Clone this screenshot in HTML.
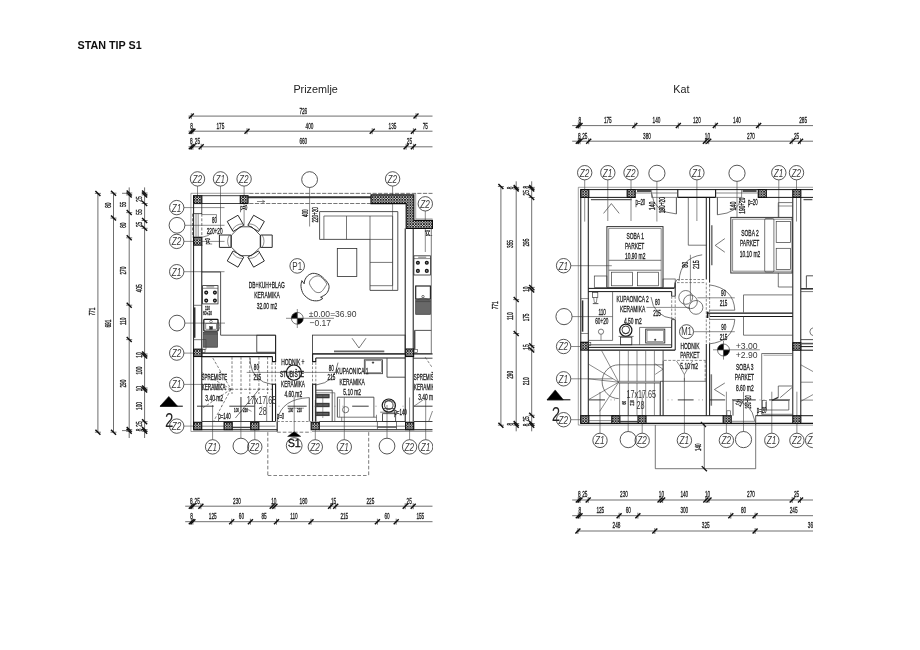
<!DOCTYPE html>
<html lang="hr">
<head>
<meta charset="utf-8">
<title>STAN TIP S1</title>
<style>
html,body{margin:0;padding:0;background:#fff;}
body{width:920px;height:650px;overflow:hidden;font-family:"Liberation Sans",sans-serif;}
svg{display:block;font-family:"Liberation Sans",sans-serif;}
</style>
</head>
<body>
<svg width="920" height="650" viewBox="0 0 920 650">
<defs>
<pattern id="hatch" width="2.7" height="2.7" patternUnits="userSpaceOnUse">
<rect width="2.7" height="2.7" fill="#d2d2d2"/>
<path d="M-0.5 -0.5L3.2 3.2M-0.5 3.2L3.2 -0.5M-0.5 2.2L0.5 3.2M2.2 -0.5L3.2 0.5M-0.5 0.5L0.5 -0.5M2.2 3.2L3.2 2.2" stroke="#161616" stroke-width="0.84" fill="none"/>
</pattern>
<filter id="soft" x="0" y="0" width="920" height="650" filterUnits="userSpaceOnUse"><feGaussianBlur stdDeviation="0.38"/></filter>
<clipPath id="clipL"><rect x="60" y="100" width="372.2" height="440"/></clipPath>
<clipPath id="clipR"><rect x="480" y="100" width="333" height="440"/></clipPath>
</defs>
<rect width="920" height="650" fill="#fff"/>
<g filter="url(#soft)">
<text x="77.6" y="48.9" font-size="10.75" font-weight="bold" fill="#111">STAN TIP S1</text>
<text x="315.6" y="92.7" font-size="10.8" text-anchor="middle" fill="#222">Prizemlje</text>
<text x="681.3" y="92.7" font-size="10.8" text-anchor="middle" fill="#222">Kat</text>
<g clip-path="url(#clipL)">
<line x1="188.5" y1="116.1" x2="432.5" y2="116.1" stroke="#4a4a4a" stroke-width="0.8"/>
<line x1="191.3" y1="113.1" x2="191.3" y2="119.1" stroke="#3a3a3a" stroke-width="0.7"/>
<line x1="188.8" y1="118.6" x2="193.8" y2="113.6" stroke="#111" stroke-width="1.45"/>
<line x1="416" y1="113.1" x2="416" y2="119.1" stroke="#3a3a3a" stroke-width="0.7"/>
<line x1="413.5" y1="118.6" x2="418.5" y2="113.6" stroke="#111" stroke-width="1.45"/>
<text transform="translate(303.3 113.53) scale(0.5 1)" font-size="9.4" text-anchor="middle" fill="#1c1c1c" stroke="#1c1c1c" stroke-width="0.32">726</text>
<line x1="188.5" y1="131.2" x2="432.5" y2="131.2" stroke="#4a4a4a" stroke-width="0.8"/>
<line x1="191.3" y1="128.2" x2="191.3" y2="134.2" stroke="#3a3a3a" stroke-width="0.7"/>
<line x1="188.8" y1="133.7" x2="193.8" y2="128.7" stroke="#111" stroke-width="1.45"/>
<line x1="192.9" y1="128.2" x2="192.9" y2="134.2" stroke="#3a3a3a" stroke-width="0.7"/>
<line x1="190.4" y1="133.7" x2="195.4" y2="128.7" stroke="#111" stroke-width="1.45"/>
<line x1="247" y1="128.2" x2="247" y2="134.2" stroke="#3a3a3a" stroke-width="0.7"/>
<line x1="244.5" y1="133.7" x2="249.5" y2="128.7" stroke="#111" stroke-width="1.45"/>
<line x1="372.2" y1="128.2" x2="372.2" y2="134.2" stroke="#3a3a3a" stroke-width="0.7"/>
<line x1="369.7" y1="133.7" x2="374.7" y2="128.7" stroke="#111" stroke-width="1.45"/>
<line x1="413.4" y1="128.2" x2="413.4" y2="134.2" stroke="#3a3a3a" stroke-width="0.7"/>
<line x1="410.9" y1="133.7" x2="415.9" y2="128.7" stroke="#111" stroke-width="1.45"/>
<text transform="translate(191.6 128.63) scale(0.5 1)" font-size="9.4" text-anchor="middle" fill="#1c1c1c" stroke="#1c1c1c" stroke-width="0.32">8</text>
<text transform="translate(220.4 128.63) scale(0.5 1)" font-size="9.4" text-anchor="middle" fill="#1c1c1c" stroke="#1c1c1c" stroke-width="0.32">175</text>
<text transform="translate(309.5 128.63) scale(0.5 1)" font-size="9.4" text-anchor="middle" fill="#1c1c1c" stroke="#1c1c1c" stroke-width="0.32">400</text>
<text transform="translate(392.5 128.63) scale(0.5 1)" font-size="9.4" text-anchor="middle" fill="#1c1c1c" stroke="#1c1c1c" stroke-width="0.32">135</text>
<text transform="translate(425.3 128.63) scale(0.5 1)" font-size="9.4" text-anchor="middle" fill="#1c1c1c" stroke="#1c1c1c" stroke-width="0.32">75</text>
<line x1="188.5" y1="146.8" x2="432.5" y2="146.8" stroke="#4a4a4a" stroke-width="0.8"/>
<line x1="191.3" y1="143.8" x2="191.3" y2="149.8" stroke="#3a3a3a" stroke-width="0.7"/>
<line x1="188.8" y1="149.3" x2="193.8" y2="144.3" stroke="#111" stroke-width="1.45"/>
<line x1="192.9" y1="143.8" x2="192.9" y2="149.8" stroke="#3a3a3a" stroke-width="0.7"/>
<line x1="190.4" y1="149.3" x2="195.4" y2="144.3" stroke="#111" stroke-width="1.45"/>
<line x1="201.2" y1="143.8" x2="201.2" y2="149.8" stroke="#3a3a3a" stroke-width="0.7"/>
<line x1="198.7" y1="149.3" x2="203.7" y2="144.3" stroke="#111" stroke-width="1.45"/>
<line x1="406.1" y1="143.8" x2="406.1" y2="149.8" stroke="#3a3a3a" stroke-width="0.7"/>
<line x1="403.6" y1="149.3" x2="408.6" y2="144.3" stroke="#111" stroke-width="1.45"/>
<line x1="413.4" y1="143.8" x2="413.4" y2="149.8" stroke="#3a3a3a" stroke-width="0.7"/>
<line x1="410.9" y1="149.3" x2="415.9" y2="144.3" stroke="#111" stroke-width="1.45"/>
<text transform="translate(191.4 144.23) scale(0.5 1)" font-size="9.4" text-anchor="middle" fill="#1c1c1c" stroke="#1c1c1c" stroke-width="0.32">8</text>
<text transform="translate(197.4 144.23) scale(0.5 1)" font-size="9.4" text-anchor="middle" fill="#1c1c1c" stroke="#1c1c1c" stroke-width="0.32">25</text>
<text transform="translate(303.3 144.23) scale(0.5 1)" font-size="9.4" text-anchor="middle" fill="#1c1c1c" stroke="#1c1c1c" stroke-width="0.32">660</text>
<text transform="translate(409.4 144.23) scale(0.5 1)" font-size="9.4" text-anchor="middle" fill="#1c1c1c" stroke="#1c1c1c" stroke-width="0.32">25</text>
<line x1="185.2" y1="506.2" x2="432.5" y2="506.2" stroke="#4a4a4a" stroke-width="0.8"/>
<line x1="191.3" y1="503.2" x2="191.3" y2="509.2" stroke="#3a3a3a" stroke-width="0.7"/>
<line x1="188.8" y1="508.7" x2="193.8" y2="503.7" stroke="#111" stroke-width="1.45"/>
<line x1="192.9" y1="503.2" x2="192.9" y2="509.2" stroke="#3a3a3a" stroke-width="0.7"/>
<line x1="190.4" y1="508.7" x2="195.4" y2="503.7" stroke="#111" stroke-width="1.45"/>
<line x1="200.9" y1="503.2" x2="200.9" y2="509.2" stroke="#3a3a3a" stroke-width="0.7"/>
<line x1="198.4" y1="508.7" x2="203.4" y2="503.7" stroke="#111" stroke-width="1.45"/>
<line x1="272.2" y1="503.2" x2="272.2" y2="509.2" stroke="#3a3a3a" stroke-width="0.7"/>
<line x1="269.7" y1="508.7" x2="274.7" y2="503.7" stroke="#111" stroke-width="1.45"/>
<line x1="274.9" y1="503.2" x2="274.9" y2="509.2" stroke="#3a3a3a" stroke-width="0.7"/>
<line x1="272.4" y1="508.7" x2="277.4" y2="503.7" stroke="#111" stroke-width="1.45"/>
<line x1="330.6" y1="503.2" x2="330.6" y2="509.2" stroke="#3a3a3a" stroke-width="0.7"/>
<line x1="328.1" y1="508.7" x2="333.1" y2="503.7" stroke="#111" stroke-width="1.45"/>
<line x1="335.7" y1="503.2" x2="335.7" y2="509.2" stroke="#3a3a3a" stroke-width="0.7"/>
<line x1="333.2" y1="508.7" x2="338.2" y2="503.7" stroke="#111" stroke-width="1.45"/>
<line x1="405.2" y1="503.2" x2="405.2" y2="509.2" stroke="#3a3a3a" stroke-width="0.7"/>
<line x1="402.7" y1="508.7" x2="407.7" y2="503.7" stroke="#111" stroke-width="1.45"/>
<line x1="413.2" y1="503.2" x2="413.2" y2="509.2" stroke="#3a3a3a" stroke-width="0.7"/>
<line x1="410.7" y1="508.7" x2="415.7" y2="503.7" stroke="#111" stroke-width="1.45"/>
<text transform="translate(191.4 503.63) scale(0.5 1)" font-size="9.4" text-anchor="middle" fill="#1c1c1c" stroke="#1c1c1c" stroke-width="0.32">8</text>
<text transform="translate(197.2 503.63) scale(0.5 1)" font-size="9.4" text-anchor="middle" fill="#1c1c1c" stroke="#1c1c1c" stroke-width="0.32">25</text>
<text transform="translate(237 503.63) scale(0.5 1)" font-size="9.4" text-anchor="middle" fill="#1c1c1c" stroke="#1c1c1c" stroke-width="0.32">230</text>
<text transform="translate(273.8 503.63) scale(0.5 1)" font-size="9.4" text-anchor="middle" fill="#1c1c1c" stroke="#1c1c1c" stroke-width="0.32">10</text>
<text transform="translate(303.5 503.63) scale(0.5 1)" font-size="9.4" text-anchor="middle" fill="#1c1c1c" stroke="#1c1c1c" stroke-width="0.32">180</text>
<text transform="translate(333.6 503.63) scale(0.5 1)" font-size="9.4" text-anchor="middle" fill="#1c1c1c" stroke="#1c1c1c" stroke-width="0.32">15</text>
<text transform="translate(370.4 503.63) scale(0.5 1)" font-size="9.4" text-anchor="middle" fill="#1c1c1c" stroke="#1c1c1c" stroke-width="0.32">225</text>
<text transform="translate(409.2 503.63) scale(0.5 1)" font-size="9.4" text-anchor="middle" fill="#1c1c1c" stroke="#1c1c1c" stroke-width="0.32">25</text>
<line x1="185.2" y1="521.7" x2="432.5" y2="521.7" stroke="#4a4a4a" stroke-width="0.8"/>
<line x1="191.3" y1="518.7" x2="191.3" y2="524.7" stroke="#3a3a3a" stroke-width="0.7"/>
<line x1="188.8" y1="524.2" x2="193.8" y2="519.2" stroke="#111" stroke-width="1.45"/>
<line x1="192.9" y1="518.7" x2="192.9" y2="524.7" stroke="#3a3a3a" stroke-width="0.7"/>
<line x1="190.4" y1="524.2" x2="195.4" y2="519.2" stroke="#111" stroke-width="1.45"/>
<line x1="231.7" y1="518.7" x2="231.7" y2="524.7" stroke="#3a3a3a" stroke-width="0.7"/>
<line x1="229.2" y1="524.2" x2="234.2" y2="519.2" stroke="#111" stroke-width="1.45"/>
<line x1="250.4" y1="518.7" x2="250.4" y2="524.7" stroke="#3a3a3a" stroke-width="0.7"/>
<line x1="247.9" y1="524.2" x2="252.9" y2="519.2" stroke="#111" stroke-width="1.45"/>
<line x1="276.5" y1="518.7" x2="276.5" y2="524.7" stroke="#3a3a3a" stroke-width="0.7"/>
<line x1="274" y1="524.2" x2="279" y2="519.2" stroke="#111" stroke-width="1.45"/>
<line x1="311" y1="518.7" x2="311" y2="524.7" stroke="#3a3a3a" stroke-width="0.7"/>
<line x1="308.5" y1="524.2" x2="313.5" y2="519.2" stroke="#111" stroke-width="1.45"/>
<line x1="377.4" y1="518.7" x2="377.4" y2="524.7" stroke="#3a3a3a" stroke-width="0.7"/>
<line x1="374.9" y1="524.2" x2="379.9" y2="519.2" stroke="#111" stroke-width="1.45"/>
<line x1="396.2" y1="518.7" x2="396.2" y2="524.7" stroke="#3a3a3a" stroke-width="0.7"/>
<line x1="393.7" y1="524.2" x2="398.7" y2="519.2" stroke="#111" stroke-width="1.45"/>
<text transform="translate(191.6 519.13) scale(0.5 1)" font-size="9.4" text-anchor="middle" fill="#1c1c1c" stroke="#1c1c1c" stroke-width="0.32">8</text>
<text transform="translate(212.7 519.13) scale(0.5 1)" font-size="9.4" text-anchor="middle" fill="#1c1c1c" stroke="#1c1c1c" stroke-width="0.32">125</text>
<text transform="translate(241.4 519.13) scale(0.5 1)" font-size="9.4" text-anchor="middle" fill="#1c1c1c" stroke="#1c1c1c" stroke-width="0.32">60</text>
<text transform="translate(264 519.13) scale(0.5 1)" font-size="9.4" text-anchor="middle" fill="#1c1c1c" stroke="#1c1c1c" stroke-width="0.32">85</text>
<text transform="translate(293.9 519.13) scale(0.5 1)" font-size="9.4" text-anchor="middle" fill="#1c1c1c" stroke="#1c1c1c" stroke-width="0.32">110</text>
<text transform="translate(344.3 519.13) scale(0.5 1)" font-size="9.4" text-anchor="middle" fill="#1c1c1c" stroke="#1c1c1c" stroke-width="0.32">215</text>
<text transform="translate(387 519.13) scale(0.5 1)" font-size="9.4" text-anchor="middle" fill="#1c1c1c" stroke="#1c1c1c" stroke-width="0.32">60</text>
<text transform="translate(420.3 519.13) scale(0.5 1)" font-size="9.4" text-anchor="middle" fill="#1c1c1c" stroke="#1c1c1c" stroke-width="0.32">155</text>
<line x1="97.9" y1="193.4" x2="97.9" y2="432.2" stroke="#4a4a4a" stroke-width="0.8"/>
<line x1="94.9" y1="193.4" x2="100.9" y2="193.4" stroke="#3a3a3a" stroke-width="0.7"/>
<line x1="95.4" y1="190.9" x2="100.4" y2="195.9" stroke="#111" stroke-width="1.45"/>
<line x1="94.9" y1="432.2" x2="100.9" y2="432.2" stroke="#3a3a3a" stroke-width="0.7"/>
<line x1="95.4" y1="429.7" x2="100.4" y2="434.7" stroke="#111" stroke-width="1.45"/>
<text transform="translate(91.6 311.65) rotate(-90) translate(0 3.38) scale(0.5 1)" font-size="9.4" text-anchor="middle" fill="#1c1c1c" stroke="#1c1c1c" stroke-width="0.32">771</text>
<line x1="113.5" y1="193.2" x2="113.5" y2="432.2" stroke="#4a4a4a" stroke-width="0.8"/>
<line x1="110.5" y1="193.2" x2="116.5" y2="193.2" stroke="#3a3a3a" stroke-width="0.7"/>
<line x1="111" y1="190.7" x2="116" y2="195.7" stroke="#111" stroke-width="1.45"/>
<line x1="110.5" y1="218.1" x2="116.5" y2="218.1" stroke="#3a3a3a" stroke-width="0.7"/>
<line x1="111" y1="215.6" x2="116" y2="220.6" stroke="#111" stroke-width="1.45"/>
<line x1="110.5" y1="432.2" x2="116.5" y2="432.2" stroke="#3a3a3a" stroke-width="0.7"/>
<line x1="111" y1="429.7" x2="116" y2="434.7" stroke="#111" stroke-width="1.45"/>
<text transform="translate(107.2 205.25) rotate(-90) translate(0 3.38) scale(0.5 1)" font-size="9.4" text-anchor="middle" fill="#1c1c1c" stroke="#1c1c1c" stroke-width="0.32">80</text>
<text transform="translate(107.2 323.65) rotate(-90) translate(0 3.38) scale(0.5 1)" font-size="9.4" text-anchor="middle" fill="#1c1c1c" stroke="#1c1c1c" stroke-width="0.32">691</text>
<line x1="129.2" y1="187.4" x2="129.2" y2="438" stroke="#4a4a4a" stroke-width="0.8"/>
<line x1="126.2" y1="193" x2="132.2" y2="193" stroke="#3a3a3a" stroke-width="0.7"/>
<line x1="126.7" y1="190.5" x2="131.7" y2="195.5" stroke="#111" stroke-width="1.45"/>
<line x1="126.2" y1="194.9" x2="132.2" y2="194.9" stroke="#3a3a3a" stroke-width="0.7"/>
<line x1="126.7" y1="192.4" x2="131.7" y2="197.4" stroke="#111" stroke-width="1.45"/>
<line x1="126.2" y1="212.6" x2="132.2" y2="212.6" stroke="#3a3a3a" stroke-width="0.7"/>
<line x1="126.7" y1="210.1" x2="131.7" y2="215.1" stroke="#111" stroke-width="1.45"/>
<line x1="126.2" y1="237.8" x2="132.2" y2="237.8" stroke="#3a3a3a" stroke-width="0.7"/>
<line x1="126.7" y1="235.3" x2="131.7" y2="240.3" stroke="#111" stroke-width="1.45"/>
<line x1="126.2" y1="305.2" x2="132.2" y2="305.2" stroke="#3a3a3a" stroke-width="0.7"/>
<line x1="126.7" y1="302.7" x2="131.7" y2="307.7" stroke="#111" stroke-width="1.45"/>
<line x1="126.2" y1="339.6" x2="132.2" y2="339.6" stroke="#3a3a3a" stroke-width="0.7"/>
<line x1="126.7" y1="337.1" x2="131.7" y2="342.1" stroke="#111" stroke-width="1.45"/>
<line x1="126.2" y1="429.6" x2="132.2" y2="429.6" stroke="#3a3a3a" stroke-width="0.7"/>
<line x1="126.7" y1="427.1" x2="131.7" y2="432.1" stroke="#111" stroke-width="1.45"/>
<line x1="126.2" y1="431.3" x2="132.2" y2="431.3" stroke="#3a3a3a" stroke-width="0.7"/>
<line x1="126.7" y1="428.8" x2="131.7" y2="433.8" stroke="#111" stroke-width="1.45"/>
<text transform="translate(122.9 204.45) rotate(-90) translate(0 3.38) scale(0.5 1)" font-size="9.4" text-anchor="middle" fill="#1c1c1c" stroke="#1c1c1c" stroke-width="0.32">55</text>
<text transform="translate(122.9 225.25) rotate(-90) translate(0 3.38) scale(0.5 1)" font-size="9.4" text-anchor="middle" fill="#1c1c1c" stroke="#1c1c1c" stroke-width="0.32">80</text>
<text transform="translate(122.9 270.65) rotate(-90) translate(0 3.38) scale(0.5 1)" font-size="9.4" text-anchor="middle" fill="#1c1c1c" stroke="#1c1c1c" stroke-width="0.32">270</text>
<text transform="translate(122.9 321.35) rotate(-90) translate(0 3.38) scale(0.5 1)" font-size="9.4" text-anchor="middle" fill="#1c1c1c" stroke="#1c1c1c" stroke-width="0.32">110</text>
<text transform="translate(122.9 383.65) rotate(-90) translate(0 3.38) scale(0.5 1)" font-size="9.4" text-anchor="middle" fill="#1c1c1c" stroke="#1c1c1c" stroke-width="0.32">290</text>
<line x1="122" y1="193.3" x2="129.2" y2="193.3" stroke="#3e3e3e" stroke-width="0.7"/>
<line x1="122" y1="430.6" x2="129.2" y2="430.6" stroke="#3e3e3e" stroke-width="0.7"/>
<line x1="144.6" y1="187.4" x2="144.6" y2="438" stroke="#4a4a4a" stroke-width="0.8"/>
<line x1="141.6" y1="193" x2="147.6" y2="193" stroke="#3a3a3a" stroke-width="0.7"/>
<line x1="142.1" y1="190.5" x2="147.1" y2="195.5" stroke="#111" stroke-width="1.45"/>
<line x1="141.6" y1="194.9" x2="147.6" y2="194.9" stroke="#3a3a3a" stroke-width="0.7"/>
<line x1="142.1" y1="192.4" x2="147.1" y2="197.4" stroke="#111" stroke-width="1.45"/>
<line x1="141.6" y1="203.5" x2="147.6" y2="203.5" stroke="#3a3a3a" stroke-width="0.7"/>
<line x1="142.1" y1="201" x2="147.1" y2="206" stroke="#111" stroke-width="1.45"/>
<line x1="141.6" y1="220.5" x2="147.6" y2="220.5" stroke="#3a3a3a" stroke-width="0.7"/>
<line x1="142.1" y1="218" x2="147.1" y2="223" stroke="#111" stroke-width="1.45"/>
<line x1="141.6" y1="228.3" x2="147.6" y2="228.3" stroke="#3a3a3a" stroke-width="0.7"/>
<line x1="142.1" y1="225.8" x2="147.1" y2="230.8" stroke="#111" stroke-width="1.45"/>
<line x1="141.6" y1="354" x2="147.6" y2="354" stroke="#3a3a3a" stroke-width="0.7"/>
<line x1="142.1" y1="351.5" x2="147.1" y2="356.5" stroke="#111" stroke-width="1.45"/>
<line x1="141.6" y1="356" x2="147.6" y2="356" stroke="#3a3a3a" stroke-width="0.7"/>
<line x1="142.1" y1="353.5" x2="147.1" y2="358.5" stroke="#111" stroke-width="1.45"/>
<line x1="141.6" y1="388" x2="147.6" y2="388" stroke="#3a3a3a" stroke-width="0.7"/>
<line x1="142.1" y1="385.5" x2="147.1" y2="390.5" stroke="#111" stroke-width="1.45"/>
<line x1="141.6" y1="390" x2="147.6" y2="390" stroke="#3a3a3a" stroke-width="0.7"/>
<line x1="142.1" y1="387.5" x2="147.1" y2="392.5" stroke="#111" stroke-width="1.45"/>
<line x1="141.6" y1="421.7" x2="147.6" y2="421.7" stroke="#3a3a3a" stroke-width="0.7"/>
<line x1="142.1" y1="419.2" x2="147.1" y2="424.2" stroke="#111" stroke-width="1.45"/>
<line x1="141.6" y1="429.6" x2="147.6" y2="429.6" stroke="#3a3a3a" stroke-width="0.7"/>
<line x1="142.1" y1="427.1" x2="147.1" y2="432.1" stroke="#111" stroke-width="1.45"/>
<line x1="141.6" y1="431.3" x2="147.6" y2="431.3" stroke="#3a3a3a" stroke-width="0.7"/>
<line x1="142.1" y1="428.8" x2="147.1" y2="433.8" stroke="#111" stroke-width="1.45"/>
<text transform="translate(138.3 199.05) rotate(-90) translate(0 3.38) scale(0.5 1)" font-size="9.4" text-anchor="middle" fill="#1c1c1c" stroke="#1c1c1c" stroke-width="0.32">25</text>
<text transform="translate(138.3 212.05) rotate(-90) translate(0 3.38) scale(0.5 1)" font-size="9.4" text-anchor="middle" fill="#1c1c1c" stroke="#1c1c1c" stroke-width="0.32">55</text>
<text transform="translate(138.3 224.45) rotate(-90) translate(0 3.38) scale(0.5 1)" font-size="9.4" text-anchor="middle" fill="#1c1c1c" stroke="#1c1c1c" stroke-width="0.32">25</text>
<text transform="translate(138.3 288.35) rotate(-90) translate(0 3.38) scale(0.5 1)" font-size="9.4" text-anchor="middle" fill="#1c1c1c" stroke="#1c1c1c" stroke-width="0.32">405</text>
<text transform="translate(138.3 355.05) rotate(-90) translate(0 3.38) scale(0.5 1)" font-size="9.4" text-anchor="middle" fill="#1c1c1c" stroke="#1c1c1c" stroke-width="0.32">10</text>
<text transform="translate(138.3 370.65) rotate(-90) translate(0 3.38) scale(0.5 1)" font-size="9.4" text-anchor="middle" fill="#1c1c1c" stroke="#1c1c1c" stroke-width="0.32">100</text>
<text transform="translate(138.3 388.65) rotate(-90) translate(0 3.38) scale(0.5 1)" font-size="9.4" text-anchor="middle" fill="#1c1c1c" stroke="#1c1c1c" stroke-width="0.32">10</text>
<text transform="translate(138.3 406.05) rotate(-90) translate(0 3.38) scale(0.5 1)" font-size="9.4" text-anchor="middle" fill="#1c1c1c" stroke="#1c1c1c" stroke-width="0.32">100</text>
<text transform="translate(138.3 424.05) rotate(-90) translate(0 3.38) scale(0.5 1)" font-size="9.4" text-anchor="middle" fill="#1c1c1c" stroke="#1c1c1c" stroke-width="0.32">25</text>
<text transform="translate(138.3 430.05) rotate(-90) translate(0 3.38) scale(0.5 1)" font-size="9.4" text-anchor="middle" fill="#1c1c1c" stroke="#1c1c1c" stroke-width="0.32">8</text>
<path d="M160 406.2 L168.8 396.4 L177.6 406.2 Z" fill="#000" stroke="#000" stroke-width="0.5"/>
<line x1="160" y1="406.2" x2="182.8" y2="406.2" stroke="#000" stroke-width="1"/>
<text transform="translate(169.3 426.76) scale(0.72 1)" font-size="21" text-anchor="middle" fill="#222">2</text>
<circle cx="197.5" cy="178.9" r="7.2" fill="none" stroke="#2c2c2c" stroke-width="0.8"/>
<text transform="translate(197.3 182.89) scale(0.76 1)" font-size="10.8" text-anchor="middle" fill="#3a3a3a" font-style="italic">Z2</text>
<circle cx="220.5" cy="178.9" r="7.2" fill="none" stroke="#2c2c2c" stroke-width="0.8"/>
<text transform="translate(220.3 182.89) scale(0.76 1)" font-size="10.8" text-anchor="middle" fill="#3a3a3a" font-style="italic">Z1</text>
<circle cx="244.1" cy="178.9" r="7.2" fill="none" stroke="#2c2c2c" stroke-width="0.8"/>
<text transform="translate(243.9 182.89) scale(0.76 1)" font-size="10.8" text-anchor="middle" fill="#3a3a3a" font-style="italic">Z2</text>
<circle cx="392.6" cy="178.9" r="7.2" fill="none" stroke="#2c2c2c" stroke-width="0.8"/>
<text transform="translate(392.4 182.89) scale(0.76 1)" font-size="10.8" text-anchor="middle" fill="#3a3a3a" font-style="italic">Z2</text>
<circle cx="309.6" cy="179.6" r="7.9" fill="none" stroke="#2c2c2c" stroke-width="0.8"/>
<circle cx="425.3" cy="203.8" r="7.2" fill="none" stroke="#2c2c2c" stroke-width="0.8"/>
<text transform="translate(425.1 207.79) scale(0.76 1)" font-size="10.8" text-anchor="middle" fill="#3a3a3a" font-style="italic">Z2</text>
<line x1="197.5" y1="186.1" x2="197.5" y2="201" stroke="#3e3e3e" stroke-width="0.6"/>
<line x1="220.5" y1="186.1" x2="220.5" y2="229.6" stroke="#3e3e3e" stroke-width="0.6"/>
<line x1="244.1" y1="186.1" x2="244.1" y2="225.5" stroke="#3e3e3e" stroke-width="0.6"/>
<line x1="309.6" y1="187.5" x2="309.6" y2="226.5" stroke="#3e3e3e" stroke-width="0.6"/>
<line x1="392.6" y1="186.1" x2="392.6" y2="290" stroke="#3e3e3e" stroke-width="0.6"/>
<line x1="425.3" y1="211" x2="425.3" y2="252" stroke="#3e3e3e" stroke-width="0.6"/>
<circle cx="176.7" cy="207.6" r="7.2" fill="none" stroke="#2c2c2c" stroke-width="0.8"/>
<text transform="translate(176.5 211.59) scale(0.76 1)" font-size="10.8" text-anchor="middle" fill="#3a3a3a" font-style="italic">Z1</text>
<circle cx="176.7" cy="241.4" r="7.2" fill="none" stroke="#2c2c2c" stroke-width="0.8"/>
<text transform="translate(176.5 245.39) scale(0.76 1)" font-size="10.8" text-anchor="middle" fill="#3a3a3a" font-style="italic">Z2</text>
<circle cx="176.7" cy="271.7" r="7.2" fill="none" stroke="#2c2c2c" stroke-width="0.8"/>
<text transform="translate(176.5 275.69) scale(0.76 1)" font-size="10.8" text-anchor="middle" fill="#3a3a3a" font-style="italic">Z1</text>
<circle cx="176.7" cy="353.1" r="7.2" fill="none" stroke="#2c2c2c" stroke-width="0.8"/>
<text transform="translate(176.5 357.09) scale(0.76 1)" font-size="10.8" text-anchor="middle" fill="#3a3a3a" font-style="italic">Z2</text>
<circle cx="176.7" cy="384.4" r="7.2" fill="none" stroke="#2c2c2c" stroke-width="0.8"/>
<text transform="translate(176.5 388.39) scale(0.76 1)" font-size="10.8" text-anchor="middle" fill="#3a3a3a" font-style="italic">Z1</text>
<circle cx="176.7" cy="426.1" r="7.2" fill="none" stroke="#2c2c2c" stroke-width="0.8"/>
<text transform="translate(176.5 430.09) scale(0.76 1)" font-size="10.8" text-anchor="middle" fill="#3a3a3a" font-style="italic">Z2</text>
<circle cx="177" cy="225.3" r="7.9" fill="none" stroke="#2c2c2c" stroke-width="0.8"/>
<circle cx="177" cy="323.1" r="7.9" fill="none" stroke="#2c2c2c" stroke-width="0.8"/>
<line x1="183.9" y1="207.6" x2="224.5" y2="207.6" stroke="#3e3e3e" stroke-width="0.6"/>
<line x1="184.9" y1="225.3" x2="224.5" y2="225.3" stroke="#3e3e3e" stroke-width="0.6"/>
<line x1="183.9" y1="241.4" x2="224.5" y2="241.4" stroke="#3e3e3e" stroke-width="0.6"/>
<line x1="183.9" y1="271.7" x2="224.5" y2="271.7" stroke="#3e3e3e" stroke-width="0.6"/>
<line x1="184.9" y1="323.1" x2="225" y2="323.1" stroke="#3e3e3e" stroke-width="0.6"/>
<line x1="183.9" y1="353.1" x2="201" y2="353.1" stroke="#3e3e3e" stroke-width="0.6"/>
<line x1="183.9" y1="384.4" x2="224.5" y2="384.4" stroke="#3e3e3e" stroke-width="0.6"/>
<line x1="183.9" y1="426.1" x2="201" y2="426.1" stroke="#3e3e3e" stroke-width="0.6"/>
<circle cx="212.6" cy="446.9" r="7.2" fill="none" stroke="#2c2c2c" stroke-width="0.8"/>
<text transform="translate(212.4 450.89) scale(0.76 1)" font-size="10.8" text-anchor="middle" fill="#3a3a3a" font-style="italic">Z1</text>
<circle cx="254.8" cy="446.9" r="7.2" fill="none" stroke="#2c2c2c" stroke-width="0.8"/>
<text transform="translate(254.6 450.89) scale(0.76 1)" font-size="10.8" text-anchor="middle" fill="#3a3a3a" font-style="italic">Z2</text>
<circle cx="315.3" cy="446.9" r="7.2" fill="none" stroke="#2c2c2c" stroke-width="0.8"/>
<text transform="translate(315.1 450.89) scale(0.76 1)" font-size="10.8" text-anchor="middle" fill="#3a3a3a" font-style="italic">Z2</text>
<circle cx="344.3" cy="446.9" r="7.2" fill="none" stroke="#2c2c2c" stroke-width="0.8"/>
<text transform="translate(344.1 450.89) scale(0.76 1)" font-size="10.8" text-anchor="middle" fill="#3a3a3a" font-style="italic">Z1</text>
<circle cx="409.6" cy="446.9" r="7.2" fill="none" stroke="#2c2c2c" stroke-width="0.8"/>
<text transform="translate(409.4 450.89) scale(0.76 1)" font-size="10.8" text-anchor="middle" fill="#3a3a3a" font-style="italic">Z2</text>
<circle cx="425.7" cy="446.9" r="7.2" fill="none" stroke="#2c2c2c" stroke-width="0.8"/>
<text transform="translate(425.5 450.89) scale(0.76 1)" font-size="10.8" text-anchor="middle" fill="#3a3a3a" font-style="italic">Z1</text>
<circle cx="240.9" cy="446.1" r="7.9" fill="none" stroke="#2c2c2c" stroke-width="0.8"/>
<circle cx="387" cy="446.1" r="7.9" fill="none" stroke="#2c2c2c" stroke-width="0.8"/>
<circle cx="294.2" cy="445.6" r="7.9" fill="none" stroke="#2c2c2c" stroke-width="0.8"/>
<text x="294.2" y="447.3" font-size="10.7" text-anchor="middle" fill="#111" stroke="#111" stroke-width="0.3">S1</text>
<line x1="212.6" y1="439.7" x2="212.6" y2="405" stroke="#3e3e3e" stroke-width="0.6"/>
<line x1="240.9" y1="438.2" x2="240.9" y2="397" stroke="#3e3e3e" stroke-width="0.6"/>
<line x1="254.8" y1="439.7" x2="254.8" y2="395.5" stroke="#3e3e3e" stroke-width="0.6"/>
<line x1="315.3" y1="439.7" x2="315.3" y2="400" stroke="#3e3e3e" stroke-width="0.6"/>
<line x1="344.3" y1="439.7" x2="344.3" y2="397.5" stroke="#3e3e3e" stroke-width="0.6"/>
<line x1="387" y1="438.2" x2="387" y2="405" stroke="#3e3e3e" stroke-width="0.6"/>
<line x1="409.6" y1="439.7" x2="409.6" y2="397.5" stroke="#3e3e3e" stroke-width="0.6"/>
<line x1="425.7" y1="439.7" x2="425.7" y2="397.5" stroke="#3e3e3e" stroke-width="0.6"/>
<path d="M287.6 436.4 L294.2 431.6 L300.8 436.4 Z" fill="#000" stroke="#000" stroke-width="0.4"/>
<line x1="294.2" y1="431.6" x2="294.2" y2="395.5" stroke="#3e3e3e" stroke-width="0.6"/>
<path d="M249.3 193.3 L190.9 193.3 L190.9 431.5 L277.2 431.5" fill="none" stroke="#555" stroke-width="0.55"/>
<line x1="312" y1="431.5" x2="432.5" y2="431.5" stroke="#555" stroke-width="0.55"/>
<line x1="249.3" y1="193.4" x2="432.5" y2="193.4" stroke="#2a2a2a" stroke-width="0.65" stroke-dasharray="4.2 1.4"/>
<line x1="249.3" y1="203.5" x2="371" y2="203.5" stroke="#2a2a2a" stroke-width="0.65" stroke-dasharray="4.2 1.4"/>
<line x1="201.7" y1="195.7" x2="240.3" y2="195.7" stroke="#2c2c2c" stroke-width="0.9"/>
<line x1="201.7" y1="203.5" x2="240.3" y2="203.5" stroke="#2c2c2c" stroke-width="0.9"/>
<line x1="248" y1="197.2" x2="371" y2="197.2" stroke="#333" stroke-width="2.1"/>
<path d="M257 201.5 L264.5 201.5" fill="none" stroke="#3e3e3e" stroke-width="0.6"/>
<path d="M262.3 200.2 L264.8 201.5 L262.3 202.8" fill="none" stroke="#3e3e3e" stroke-width="0.6"/>
<path d="M371 194.9 L413.8 194.9 L413.8 220.3 L432.5 220.3 L432.5 228.5 L406.2 228.5 L406.2 203.6 L371 203.6 Z" fill="url(#hatch)" stroke="#111" stroke-width="1.15"/>
<path d="M415.7 193.3 L415.7 218.9 L432.5 218.9" fill="none" stroke="#555" stroke-width="0.55"/>
<line x1="193.6" y1="195.7" x2="193.6" y2="429.7" stroke="#161616" stroke-width="1"/>
<line x1="201.8" y1="245" x2="201.8" y2="421.5" stroke="#161616" stroke-width="1"/>
<rect x="193.6" y="195.7" width="8.2" height="7.8" fill="url(#hatch)" stroke="#111" stroke-width="1.15"/>
<rect x="240.3" y="195.7" width="7.7" height="7.8" fill="url(#hatch)" stroke="#111" stroke-width="1.15"/>
<rect x="193.6" y="237.3" width="8.2" height="7.8" fill="url(#hatch)" stroke="#111" stroke-width="1.15"/>
<rect x="193.6" y="349.2" width="8.2" height="7.3" fill="url(#hatch)" stroke="#111" stroke-width="1.15"/>
<rect x="193.6" y="203.5" width="8.2" height="10.2" fill="none" stroke="#2c2c2c" stroke-width="0.8"/>
<line x1="192.6" y1="213.7" x2="192.6" y2="237.3" stroke="#3e3e3e" stroke-width="0.7" stroke-dasharray="3 1.6"/>
<line x1="201.8" y1="213.7" x2="201.8" y2="237.3" stroke="#3e3e3e" stroke-width="0.7" stroke-dasharray="3 1.6"/>
<line x1="196" y1="213.7" x2="196" y2="237.3" stroke="#3e3e3e" stroke-width="0.6"/>
<line x1="198.2" y1="213.7" x2="198.2" y2="237.3" stroke="#3e3e3e" stroke-width="0.6"/>
<path d="M201.8 214.6 L216.5 214.6 L216.5 217" fill="none" stroke="#3e3e3e" stroke-width="0.6"/>
<text transform="translate(214.4 223.45) scale(0.5 1)" font-size="8.89" text-anchor="middle" fill="#1c1c1c" stroke="#1c1c1c" stroke-width="0.32">80</text>
<text transform="translate(214.6 233.83) scale(0.5 1)" font-size="9.4" text-anchor="middle" fill="#1c1c1c" stroke="#1c1c1c" stroke-width="0.32">220+20</text>
<path d="M201.8 237.3 Q209 236.5 212.5 232" fill="none" stroke="#3e3e3e" stroke-width="0.6"/>
<text transform="translate(207.4 241.45) rotate(-90) translate(0 2.93) scale(0.46 1)" font-size="8.13" text-anchor="middle" fill="#1c1c1c" stroke="#1c1c1c" stroke-width="0.32">p=0</text>
<text transform="translate(243.8 210.38) scale(0.5 1)" font-size="8.13" text-anchor="middle" fill="#1c1c1c" stroke="#1c1c1c" stroke-width="0.32">p=0</text>
<text transform="translate(305.2 213.25) rotate(-90) translate(0 3.29) scale(0.5 1)" font-size="9.14" text-anchor="middle" fill="#1c1c1c" stroke="#1c1c1c" stroke-width="0.32">400</text>
<text transform="translate(314.4 214.85) rotate(-90) translate(0 3.29) scale(0.5 1)" font-size="9.14" text-anchor="middle" fill="#1c1c1c" stroke="#1c1c1c" stroke-width="0.32">220+20</text>
<line x1="194.7" y1="307.4" x2="194.7" y2="337.8" stroke="#333" stroke-width="1.5"/>
<line x1="193.6" y1="305.3" x2="201.8" y2="305.3" stroke="#3e3e3e" stroke-width="0.7"/>
<line x1="193.6" y1="339.7" x2="201.8" y2="339.7" stroke="#3e3e3e" stroke-width="0.7"/>
<line x1="193.6" y1="429.7" x2="277.2" y2="429.7" stroke="#161616" stroke-width="1.1"/>
<line x1="201.8" y1="421.5" x2="275.4" y2="421.5" stroke="#2c2c2c" stroke-width="0.9"/>
<line x1="201.8" y1="426.2" x2="224.1" y2="426.2" stroke="#3e3e3e" stroke-width="0.6"/>
<line x1="232.3" y1="427.4" x2="250.7" y2="427.4" stroke="#444" stroke-width="1.4"/>
<line x1="258.9" y1="426.2" x2="275.4" y2="426.2" stroke="#3e3e3e" stroke-width="0.6"/>
<line x1="277.2" y1="421.5" x2="277.2" y2="431.5" stroke="#2c2c2c" stroke-width="0.8"/>
<rect x="193.6" y="422.3" width="8.1" height="7.4" fill="url(#hatch)" stroke="#111" stroke-width="1.15"/>
<rect x="224.1" y="422.3" width="8.1" height="7.4" fill="url(#hatch)" stroke="#111" stroke-width="1.15"/>
<rect x="250.7" y="422.3" width="8.1" height="7.4" fill="url(#hatch)" stroke="#111" stroke-width="1.15"/>
<rect x="311.2" y="422.3" width="8.1" height="7.4" fill="url(#hatch)" stroke="#111" stroke-width="1.15"/>
<rect x="405.6" y="422.3" width="8.1" height="7.4" fill="url(#hatch)" stroke="#111" stroke-width="1.15"/>
<line x1="319.3" y1="429.7" x2="432.5" y2="429.7" stroke="#161616" stroke-width="1.1"/>
<line x1="319.3" y1="421.5" x2="405.6" y2="421.5" stroke="#2c2c2c" stroke-width="0.9"/>
<line x1="413.7" y1="421.5" x2="432.5" y2="421.5" stroke="#2c2c2c" stroke-width="0.9"/>
<line x1="319.3" y1="426.2" x2="377.4" y2="426.2" stroke="#3e3e3e" stroke-width="0.6"/>
<line x1="377.4" y1="427" x2="396.5" y2="427" stroke="#444" stroke-width="1.5"/>
<line x1="377.4" y1="421.5" x2="377.4" y2="429.7" stroke="#3e3e3e" stroke-width="0.7"/>
<line x1="396.5" y1="421.5" x2="396.5" y2="429.7" stroke="#3e3e3e" stroke-width="0.7"/>
<line x1="396.5" y1="426.2" x2="405.6" y2="426.2" stroke="#3e3e3e" stroke-width="0.6"/>
<line x1="201.8" y1="353.1" x2="275.6" y2="353.1" stroke="#161616" stroke-width="1.3"/>
<line x1="201.8" y1="356.6" x2="272.4" y2="356.6" stroke="#161616" stroke-width="1.2"/>
<path d="M272.4 356.6 L272.4 361.6 L275.6 361.6 L275.6 335.2" fill="none" stroke="#161616" stroke-width="1.1"/>
<path d="M272.4 421.5 L272.4 384.2 L275.6 384.2 L275.6 421.5" fill="none" stroke="#161616" stroke-width="1.1"/>
<line x1="272" y1="362.4" x2="272" y2="384.7" stroke="#3e3e3e" stroke-width="0.6" stroke-dasharray="2.6 1.5"/>
<line x1="275.4" y1="362.4" x2="275.4" y2="384.7" stroke="#3e3e3e" stroke-width="0.6" stroke-dasharray="2.6 1.5"/>
<line x1="312.5" y1="353.8" x2="432.5" y2="353.8" stroke="#161616" stroke-width="1.3"/>
<line x1="315.8" y1="358" x2="405.2" y2="358" stroke="#161616" stroke-width="1.2"/>
<line x1="413.4" y1="358.2" x2="432.5" y2="358.2" stroke="#2c2c2c" stroke-width="0.9"/>
<path d="M312.6 353.8 L312.6 361.6 L315.8 361.6 L315.8 358" fill="none" stroke="#161616" stroke-width="1.1"/>
<path d="M312.6 421.5 L312.6 384.2 L315.8 384.2 L315.8 421.5" fill="none" stroke="#161616" stroke-width="1.1"/>
<line x1="312.5" y1="362.4" x2="312.5" y2="384.7" stroke="#3e3e3e" stroke-width="0.6" stroke-dasharray="2.6 1.5"/>
<line x1="315.8" y1="362.4" x2="315.8" y2="384.7" stroke="#3e3e3e" stroke-width="0.6" stroke-dasharray="2.6 1.5"/>
<line x1="405.2" y1="228.5" x2="405.2" y2="421.5" stroke="#161616" stroke-width="1"/>
<line x1="413.2" y1="228.5" x2="413.2" y2="421.5" stroke="#161616" stroke-width="1"/>
<rect x="405.6" y="349" width="8" height="7.5" fill="url(#hatch)" stroke="#111" stroke-width="1.15"/>
<path d="M260.21 247.17 L251.77 255.61 L239.83 255.61 L231.39 247.17 L231.39 235.23 L239.83 226.79 L251.77 226.79 L260.21 235.23 Z" fill="none" stroke="#2c2c2c" stroke-width="0.8"/>
<path d="M260.6 235 L272.2 235 L272.2 247.4 L260.6 247.4 Z" fill="none" stroke="#2a2a2a" stroke-width="1"/>
<path d="M262.2 235 L263.6 238.2 L264 241.2 L263.6 244.2 L262.2 247.4" fill="none" stroke="#3e3e3e" stroke-width="0.6"/>
<path d="M258.57 250.92 L264.37 260.96 L253.63 267.16 L247.83 257.12 Z" fill="none" stroke="#2a2a2a" stroke-width="1"/>
<path d="M259.37 252.3 L257.3 255.12 L254.9 256.96 L252.1 258.12 L248.63 258.5" fill="none" stroke="#3e3e3e" stroke-width="0.6"/>
<path d="M243.77 257.12 L237.97 267.16 L227.23 260.96 L233.03 250.92 Z" fill="none" stroke="#2a2a2a" stroke-width="1"/>
<path d="M242.97 258.5 L239.5 258.12 L236.7 256.96 L234.3 255.12 L232.23 252.3" fill="none" stroke="#3e3e3e" stroke-width="0.6"/>
<path d="M231 247.4 L219.4 247.4 L219.4 235 L231 235 Z" fill="none" stroke="#2a2a2a" stroke-width="1"/>
<path d="M229.4 247.4 L228 244.2 L227.6 241.2 L228 238.2 L229.4 235" fill="none" stroke="#3e3e3e" stroke-width="0.6"/>
<path d="M233.03 231.48 L227.23 221.44 L237.97 215.24 L243.77 225.28 Z" fill="none" stroke="#2a2a2a" stroke-width="1"/>
<path d="M232.23 230.1 L234.3 227.28 L236.7 225.44 L239.5 224.28 L242.97 223.9" fill="none" stroke="#3e3e3e" stroke-width="0.6"/>
<path d="M247.83 225.28 L253.63 215.24 L264.37 221.44 L258.57 231.48 Z" fill="none" stroke="#2a2a2a" stroke-width="1"/>
<path d="M248.63 223.9 L252.1 224.28 L254.9 225.44 L257.3 227.28 L259.37 230.1" fill="none" stroke="#3e3e3e" stroke-width="0.6"/>
<path d="M319.6 211.6 L397.8 211.6 L397.8 290.4 L370 290.4 L370 239.4 L319.6 239.4 Z" fill="none" stroke="#2c2c2c" stroke-width="0.8"/>
<path d="M323.9 239.4 L323.9 216 L392.6 216 L392.6 285.7 L370 285.7" fill="none" stroke="#3e3e3e" stroke-width="0.7"/>
<line x1="346.5" y1="216" x2="346.5" y2="239.4" stroke="#3e3e3e" stroke-width="0.7"/>
<line x1="370" y1="216" x2="370" y2="239.4" stroke="#3e3e3e" stroke-width="0.7"/>
<line x1="370" y1="239.4" x2="392.6" y2="239.4" stroke="#3e3e3e" stroke-width="0.7"/>
<line x1="370" y1="262.4" x2="392.6" y2="262.4" stroke="#3e3e3e" stroke-width="0.7"/>
<rect x="337.3" y="248.5" width="19.5" height="27.9" fill="none" stroke="#2c2c2c" stroke-width="0.8"/>
<circle cx="297.2" cy="265.9" r="7.3" fill="none" stroke="#2c2c2c" stroke-width="0.8"/>
<text transform="translate(297.2 269.82) scale(0.76 1)" font-size="10.6" text-anchor="middle" fill="#3a3a3a">P1</text>
<path d="M304.2 283.8 C304.32 283.15 304.35 281.22 304.9 279.9 C305.45 278.58 306.48 276.92 307.5 275.9 C308.52 274.88 309.82 274.22 311 273.8 C312.18 273.38 313 273.1 314.6 273.4 C316.2 273.7 318.43 274.07 320.6 275.6 C322.77 277.13 326.2 280.55 327.6 282.6 C329 284.65 329.2 286.05 329 287.9 C328.8 289.75 327.8 292.15 326.4 293.7 C325 295.25 321.57 296.62 320.6 297.2 L322.9 298.4 C322.12 298.78 320.25 300.45 318.2 300.7 C316.15 300.95 313.03 300.97 310.6 299.9 C308.17 298.83 305.2 296.5 303.6 294.3 C302 292.1 301.3 288.98 301 286.7 C300.7 284.42 301.67 281.62 301.8 280.6 Z" fill="none" stroke="#333" stroke-width="1"/>
<path d="M309.5 283.8 C309.02 281.85 310.13 280.37 311.2 279.1 C312.27 277.83 314.33 276.58 315.9 276.2 C317.47 275.82 318.85 275.63 320.6 276.8 C322.35 277.97 325.63 281.55 326.4 283.2 C327.17 284.85 325.98 285.33 325.2 286.7 C324.42 288.07 322.87 290.42 321.7 291.4 C320.53 292.38 319.47 292.7 318.2 292.6 C316.93 292.5 315.55 292.27 314.1 290.8 C312.65 289.33 309.98 285.75 309.5 283.8 Z" fill="none" stroke="#3e3e3e" stroke-width="0.7"/>
<text transform="translate(266.8 288.02) scale(0.51 1)" font-size="9.65" text-anchor="middle" fill="#1c1c1c" stroke="#1c1c1c" stroke-width="0.32">DB+KUH+BLAG</text>
<text transform="translate(267 298.42) scale(0.51 1)" font-size="9.65" text-anchor="middle" fill="#1c1c1c" stroke="#1c1c1c" stroke-width="0.32">KERAMIKA</text>
<text transform="translate(267 308.82) scale(0.51 1)" font-size="9.65" text-anchor="middle" fill="#1c1c1c" stroke="#1c1c1c" stroke-width="0.32">32.00 m2</text>
<circle cx="297.3" cy="318.3" r="5.9" fill="none" stroke="#3e3e3e" stroke-width="0.7"/>
<path d="M297.3 318.3 L297.3 312.4 A5.9 5.9 0 0 0 291.4 318.3 Z" fill="#000" stroke="#3e3e3e" stroke-width="0.3"/>
<path d="M297.3 318.3 L297.3 324.2 A5.9 5.9 0 0 0 303.2 318.3 Z" fill="#000" stroke="#3e3e3e" stroke-width="0.3"/>
<line x1="286" y1="318.3" x2="334" y2="318.3" stroke="#3e3e3e" stroke-width="0.6"/>
<line x1="297.3" y1="309" x2="297.3" y2="328" stroke="#3e3e3e" stroke-width="0.6"/>
<text transform="translate(308.8 317.41) scale(0.93 1)" font-size="9.2" text-anchor="start" fill="#3a3a3a">±0.00=36.90</text>
<text transform="translate(309.4 325.91) scale(0.93 1)" font-size="9.2" text-anchor="start" fill="#3a3a3a">−0.17</text>
<rect x="312.5" y="335.1" width="92.7" height="18.8" fill="none" stroke="#2c2c2c" stroke-width="0.8"/>
<path d="M352 338.2 L359 348 L366 338.2" fill="none" stroke="#3e3e3e" stroke-width="0.7"/>
<line x1="334" y1="351.4" x2="384.3" y2="351.4" stroke="#666" stroke-width="1.9"/>
<path d="M201.8 272 L220.6 272 L220.6 335.2 L275.6 335.2" fill="none" stroke="#2c2c2c" stroke-width="0.8"/>
<rect x="256.8" y="335.2" width="18.6" height="17" fill="none" stroke="#2c2c2c" stroke-width="0.8"/>
<rect x="202.6" y="285.6" width="15.4" height="18.3" fill="none" stroke="#2c2c2c" stroke-width="0.8"/>
<line x1="202.6" y1="288.3" x2="218" y2="288.3" stroke="#3e3e3e" stroke-width="0.6"/>
<line x1="206.4" y1="286.9" x2="214.2" y2="286.9" stroke="#555" stroke-width="0.8"/>
<circle cx="206.2" cy="292.6" r="1.3" fill="none" stroke="#161616" stroke-width="1.5"/>
<circle cx="214.9" cy="292.6" r="1.3" fill="none" stroke="#161616" stroke-width="1.5"/>
<circle cx="206.2" cy="300.6" r="1.3" fill="none" stroke="#161616" stroke-width="1.5"/>
<circle cx="214.9" cy="300.6" r="1.3" fill="none" stroke="#161616" stroke-width="1.5"/>
<text transform="translate(207.5 310.35) scale(0.55 1)" font-size="5.84" text-anchor="middle" fill="#1c1c1c" stroke="#1c1c1c" stroke-width="0.32">110</text>
<text transform="translate(207.5 314.75) scale(0.55 1)" font-size="5.84" text-anchor="middle" fill="#1c1c1c" stroke="#1c1c1c" stroke-width="0.32">60+20</text>
<rect x="203.8" y="319.4" width="14.2" height="11.6" fill="none" stroke="#161616" stroke-width="1.25" rx="0.8"/>
<rect x="205.8" y="323.5" width="10.6" height="5.7" fill="none" stroke="#3e3e3e" stroke-width="0.6"/>
<circle cx="211" cy="321.6" r="1.3" fill="none" stroke="#3e3e3e" stroke-width="0.6"/>
<rect x="209.6" y="326.6" width="3" height="2.8" fill="#333" stroke="#3e3e3e" stroke-width="0.5"/>
<path d="M218 322 Q221.6 326.5 218 331" fill="none" stroke="#3e3e3e" stroke-width="0.6"/>
<rect x="203.6" y="332.4" width="13.8" height="14.8" fill="#686868" stroke="#333" stroke-width="0.7"/>
<line x1="203.8" y1="334" x2="217.8" y2="334" stroke="#333" stroke-width="0.5"/>
<rect x="201.8" y="339.7" width="4.2" height="9.5" fill="none" stroke="#3e3e3e" stroke-width="0.6"/>
<rect x="202.2" y="349.6" width="2.8" height="3" fill="none" stroke="#3e3e3e" stroke-width="0.6"/>
<rect x="413.9" y="255.8" width="16.6" height="19.2" fill="none" stroke="#2c2c2c" stroke-width="0.8"/>
<line x1="413.9" y1="258.6" x2="430.5" y2="258.6" stroke="#3e3e3e" stroke-width="0.6"/>
<line x1="418.2" y1="257.2" x2="426.2" y2="257.2" stroke="#555" stroke-width="0.8"/>
<circle cx="417.9" cy="262.8" r="1.3" fill="none" stroke="#161616" stroke-width="1.5"/>
<circle cx="426.8" cy="262.8" r="1.3" fill="none" stroke="#161616" stroke-width="1.5"/>
<circle cx="417.9" cy="270.9" r="1.3" fill="none" stroke="#161616" stroke-width="1.5"/>
<circle cx="426.8" cy="270.9" r="1.3" fill="none" stroke="#161616" stroke-width="1.5"/>
<rect x="415.7" y="286" width="14.7" height="13" fill="none" stroke="#161616" stroke-width="1.1"/>
<circle cx="423" cy="296.6" r="1.2" fill="none" stroke="#3e3e3e" stroke-width="0.7"/>
<rect x="415.7" y="299.8" width="14.7" height="14.5" fill="#686868" stroke="#333" stroke-width="0.7"/>
<path d="M417.5 299.8 Q423 296.6 428.8 299.8" fill="none" stroke="#3e3e3e" stroke-width="0.6"/>
<line x1="415.7" y1="301.6" x2="430.4" y2="301.6" stroke="#333" stroke-width="0.5"/>
<path d="M431.3 330.4 L414.4 330.4 L414.4 349.6" fill="none" stroke="#2c2c2c" stroke-width="0.8"/>
<line x1="414.8" y1="331" x2="414.8" y2="349" stroke="#444" stroke-width="1.2"/>
<rect x="414" y="349.4" width="3.4" height="3.2" fill="none" stroke="#3e3e3e" stroke-width="0.6"/>
<line x1="431.3" y1="228.5" x2="431.3" y2="353.9" stroke="#3e3e3e" stroke-width="0.7"/>
<text transform="translate(426.6 233.15) rotate(-90) translate(0 2.93) scale(0.46 1)" font-size="8.13" text-anchor="middle" fill="#1c1c1c" stroke="#1c1c1c" stroke-width="0.32">p=0</text>
<line x1="197" y1="406.2" x2="213.7" y2="406.2" stroke="#222" stroke-width="0.9"/>
<line x1="229.3" y1="406.2" x2="254.6" y2="406.2" stroke="#222" stroke-width="0.9"/>
<line x1="287.6" y1="406.2" x2="306.7" y2="406.2" stroke="#222" stroke-width="0.9"/>
<line x1="352.2" y1="406.2" x2="368.7" y2="406.2" stroke="#222" stroke-width="0.9"/>
<line x1="414" y1="406.2" x2="432.5" y2="406.2" stroke="#222" stroke-width="0.9"/>
<line x1="221" y1="406.2" x2="222" y2="406.2" stroke="#666" stroke-width="0.7"/>
<line x1="261.5" y1="406.2" x2="262.5" y2="406.2" stroke="#666" stroke-width="0.7"/>
<line x1="269.5" y1="406.2" x2="270.5" y2="406.2" stroke="#666" stroke-width="0.7"/>
<line x1="278.5" y1="406.2" x2="279.5" y2="406.2" stroke="#666" stroke-width="0.7"/>
<line x1="314.5" y1="406.2" x2="315.5" y2="406.2" stroke="#666" stroke-width="0.7"/>
<line x1="334.5" y1="406.2" x2="335.5" y2="406.2" stroke="#666" stroke-width="0.7"/>
<line x1="342.5" y1="406.2" x2="343.5" y2="406.2" stroke="#666" stroke-width="0.7"/>
<line x1="375.5" y1="406.2" x2="376.5" y2="406.2" stroke="#666" stroke-width="0.7"/>
<line x1="394.5" y1="406.2" x2="395.5" y2="406.2" stroke="#666" stroke-width="0.7"/>
<line x1="402.5" y1="406.2" x2="403.5" y2="406.2" stroke="#666" stroke-width="0.7"/>
<line x1="232" y1="356.8" x2="232" y2="394" stroke="#333" stroke-width="0.6" stroke-dasharray="2.8 1.6"/>
<line x1="241" y1="356.8" x2="241" y2="394" stroke="#333" stroke-width="0.6" stroke-dasharray="2.8 1.6"/>
<line x1="249.8" y1="356.8" x2="249.8" y2="394" stroke="#333" stroke-width="0.6" stroke-dasharray="2.8 1.6"/>
<line x1="258.9" y1="356.8" x2="258.9" y2="394" stroke="#333" stroke-width="0.6" stroke-dasharray="2.8 1.6"/>
<line x1="267.6" y1="356.8" x2="267.6" y2="394" stroke="#333" stroke-width="0.6" stroke-dasharray="2.8 1.6"/>
<line x1="231" y1="389.3" x2="272" y2="389.3" stroke="#333" stroke-width="0.6" stroke-dasharray="2.8 1.6"/>
<line x1="212.8" y1="358" x2="231" y2="389.3" stroke="#333" stroke-width="0.6" stroke-dasharray="2.8 1.6"/>
<line x1="201.8" y1="389.3" x2="231" y2="389.3" stroke="#333" stroke-width="0.6" stroke-dasharray="2.8 1.6"/>
<line x1="231" y1="389.3" x2="213.5" y2="421.5" stroke="#333" stroke-width="0.6" stroke-dasharray="2.8 1.6"/>
<line x1="231" y1="389.3" x2="201.8" y2="408.5" stroke="#333" stroke-width="0.6" stroke-dasharray="2.8 1.6"/>
<line x1="201.8" y1="372.5" x2="231" y2="389.3" stroke="#333" stroke-width="0.6" stroke-dasharray="2.8 1.6"/>
<line x1="259.8" y1="388.5" x2="235.4" y2="418" stroke="#3e3e3e" stroke-width="0.7"/>
<line x1="241" y1="397" x2="241" y2="421.5" stroke="#3e3e3e" stroke-width="0.6"/>
<line x1="254.6" y1="395.4" x2="254.6" y2="421.5" stroke="#3e3e3e" stroke-width="0.6"/>
<line x1="266.7" y1="395.4" x2="266.7" y2="421.5" stroke="#3e3e3e" stroke-width="0.6"/>
<text transform="translate(261.5 404.2) scale(0.72 1)" font-size="10" text-anchor="middle" fill="#333">17x17.65</text>
<text transform="translate(262.7 414.8) scale(0.72 1)" font-size="10" text-anchor="middle" fill="#333">28</text>
<text transform="translate(236.5 411.77) scale(0.55 1)" font-size="5.33" text-anchor="middle" fill="#1c1c1c" stroke="#1c1c1c" stroke-width="0.32">100</text>
<text transform="translate(245.5 411.77) scale(0.55 1)" font-size="5.33" text-anchor="middle" fill="#1c1c1c" stroke="#1c1c1c" stroke-width="0.32">210</text>
<path d="M239.5 413 Q246 407 251.5 411.4" fill="none" stroke="#3e3e3e" stroke-width="0.6"/>
<text transform="translate(214.4 380.02) scale(0.46 1)" font-size="9.65" text-anchor="middle" fill="#1c1c1c" stroke="#1c1c1c" stroke-width="0.32">SPREMIŠTE</text>
<text transform="translate(213.6 390.32) scale(0.48 1)" font-size="9.65" text-anchor="middle" fill="#1c1c1c" stroke="#1c1c1c" stroke-width="0.32">KERAMIKA</text>
<text transform="translate(214.2 400.92) scale(0.51 1)" font-size="9.65" text-anchor="middle" fill="#1c1c1c" stroke="#1c1c1c" stroke-width="0.32">3.40 m2</text>
<text transform="translate(224.4 419.25) scale(0.5 1)" font-size="8.89" text-anchor="middle" fill="#1c1c1c" stroke="#1c1c1c" stroke-width="0.32">p=140</text>
<path d="M250.2 362.4 Q252.6 381.5 272 384.4" fill="none" stroke="#3e3e3e" stroke-width="0.7"/>
<line x1="250.2" y1="358" x2="250.2" y2="363" stroke="#3e3e3e" stroke-width="0.7"/>
<text transform="translate(256.4 369.74) scale(0.5 1)" font-size="9.14" text-anchor="middle" fill="#1c1c1c" stroke="#1c1c1c" stroke-width="0.32">80</text>
<text transform="translate(257.2 380.24) scale(0.5 1)" font-size="9.14" text-anchor="middle" fill="#1c1c1c" stroke="#1c1c1c" stroke-width="0.32">215</text>
<line x1="246.7" y1="372.4" x2="338" y2="372.4" stroke="#3e3e3e" stroke-width="0.6"/>
<circle cx="293.9" cy="372.6" r="7.6" fill="none" stroke="#161616" stroke-width="1.15"/>
<text transform="translate(292.8 364.72) scale(0.51 1)" font-size="9.65" text-anchor="middle" fill="#1c1c1c" stroke="#1c1c1c" stroke-width="0.32">HODNIK +</text>
<text transform="translate(292 376.92) scale(0.51 1)" font-size="9.65" text-anchor="middle" fill="#1c1c1c" stroke="#1c1c1c" stroke-width="0.32">STUBIŠTE</text>
<text transform="translate(293 386.92) scale(0.48 1)" font-size="9.65" text-anchor="middle" fill="#1c1c1c" stroke="#1c1c1c" stroke-width="0.32">KERAMIKA</text>
<text transform="translate(293.3 397.42) scale(0.51 1)" font-size="9.65" text-anchor="middle" fill="#1c1c1c" stroke="#1c1c1c" stroke-width="0.32">4.60 m2</text>
<path d="M277.6 419 Q282 398.8 309.3 397.6" fill="none" stroke="#3e3e3e" stroke-width="0.7"/>
<line x1="309.3" y1="397.6" x2="309.3" y2="421.5" stroke="#2c2c2c" stroke-width="0.8"/>
<line x1="277.2" y1="421.5" x2="277.2" y2="431.5" stroke="#2c2c2c" stroke-width="0.8"/>
<text transform="translate(280.6 418.87) scale(0.5 1)" font-size="8.38" text-anchor="middle" fill="#1c1c1c" stroke="#1c1c1c" stroke-width="0.32">p=0</text>
<text transform="translate(290.8 411.97) scale(0.55 1)" font-size="5.33" text-anchor="middle" fill="#1c1c1c" stroke="#1c1c1c" stroke-width="0.32">100</text>
<text transform="translate(299.5 411.97) scale(0.55 1)" font-size="5.33" text-anchor="middle" fill="#1c1c1c" stroke="#1c1c1c" stroke-width="0.32">210</text>
<line x1="287.6" y1="408.2" x2="304" y2="408.2" stroke="#3e3e3e" stroke-width="0.5"/>
<line x1="277.2" y1="432.2" x2="311.2" y2="432.2" stroke="#3e3e3e" stroke-width="0.7" stroke-dasharray="3.6 2"/>
<line x1="267.8" y1="432.2" x2="267.8" y2="475.6" stroke="#3e3e3e" stroke-width="0.7" stroke-dasharray="3.6 2"/>
<line x1="267.8" y1="475.6" x2="368.7" y2="475.6" stroke="#3e3e3e" stroke-width="0.7" stroke-dasharray="3.6 2"/>
<line x1="368.7" y1="432.2" x2="368.7" y2="475.6" stroke="#3e3e3e" stroke-width="0.7" stroke-dasharray="3.6 2"/>
<line x1="277.2" y1="421.5" x2="311.2" y2="421.5" stroke="#3e3e3e" stroke-width="0.6" stroke-dasharray="2.6 1.5"/>
<path d="M316 385 Q335.5 382.6 338 362.6" fill="none" stroke="#3e3e3e" stroke-width="0.7"/>
<text transform="translate(331.2 370.64) scale(0.5 1)" font-size="9.14" text-anchor="middle" fill="#1c1c1c" stroke="#1c1c1c" stroke-width="0.32">80</text>
<text transform="translate(331.4 380.24) scale(0.5 1)" font-size="9.14" text-anchor="middle" fill="#1c1c1c" stroke="#1c1c1c" stroke-width="0.32">215</text>
<text transform="translate(352.2 374.22) scale(0.51 1)" font-size="9.65" text-anchor="middle" fill="#1c1c1c" stroke="#1c1c1c" stroke-width="0.32">KUPAONICA 1</text>
<text transform="translate(352.2 384.72) scale(0.51 1)" font-size="9.65" text-anchor="middle" fill="#1c1c1c" stroke="#1c1c1c" stroke-width="0.32">KERAMIKA</text>
<text transform="translate(352.2 394.82) scale(0.51 1)" font-size="9.65" text-anchor="middle" fill="#1c1c1c" stroke="#1c1c1c" stroke-width="0.32">5.10 m2</text>
<rect x="364.3" y="359.8" width="18.3" height="13.9" fill="none" stroke="#2c2c2c" stroke-width="0.8"/>
<rect x="365.4" y="360.8" width="16.1" height="11.8" fill="none" stroke="#3e3e3e" stroke-width="0.5"/>
<circle cx="373" cy="362.6" r="0.8" fill="#111" stroke="#3e3e3e" stroke-width="0.5"/>
<path d="M387 358.2 L387 377.2 L405.2 377.2" fill="none" stroke="#2c2c2c" stroke-width="0.8"/>
<path d="M315.8 390.2 L332.2 390.2 L332.2 421.5" fill="none" stroke="#2c2c2c" stroke-width="0.8"/>
<path d="M315.8 392.8 L334.8 392.8 L334.8 421.5" fill="none" stroke="#3e3e3e" stroke-width="0.6"/>
<rect x="316.6" y="394.2" width="12.6" height="3.8" fill="#3c3c3c" stroke="#222" stroke-width="0.5"/>
<line x1="317.4" y1="396.1" x2="328.4" y2="396.1" stroke="#9a9a9a" stroke-width="0.7"/>
<rect x="316.6" y="403.1" width="12.6" height="3.8" fill="#3c3c3c" stroke="#222" stroke-width="0.5"/>
<line x1="317.4" y1="405" x2="328.4" y2="405" stroke="#9a9a9a" stroke-width="0.7"/>
<rect x="316.6" y="412" width="12.6" height="3.8" fill="#3c3c3c" stroke="#222" stroke-width="0.5"/>
<line x1="317.4" y1="413.9" x2="328.4" y2="413.9" stroke="#9a9a9a" stroke-width="0.7"/>
<line x1="322.8" y1="394" x2="322.8" y2="418" stroke="#3e3e3e" stroke-width="0.5"/>
<path d="M337.4 417.2 L337.4 397.2 L373.9 397.2 L373.9 417.2" fill="none" stroke="#2c2c2c" stroke-width="0.8"/>
<line x1="339.6" y1="399" x2="339.6" y2="417.2" stroke="#3e3e3e" stroke-width="0.5"/>
<line x1="337.4" y1="417.2" x2="376.5" y2="417.2" stroke="#3e3e3e" stroke-width="0.7"/>
<path d="M341.7 417.2 L341.7 421.5" fill="none" stroke="#3e3e3e" stroke-width="0.6"/>
<path d="M376.5 414.8 L376.5 421.5" fill="none" stroke="#3e3e3e" stroke-width="0.6"/>
<circle cx="345.6" cy="409.7" r="3.1" fill="none" stroke="#3e3e3e" stroke-width="0.7"/>
<circle cx="388.8" cy="405.6" r="6.6" fill="none" stroke="#161616" stroke-width="1.2"/>
<circle cx="388.8" cy="405.2" r="4.3" fill="none" stroke="#2c2c2c" stroke-width="0.9"/>
<path d="M384.2 402.4 Q388.8 398.4 393.4 402.4" fill="none" stroke="#2c2c2c" stroke-width="0.8"/>
<line x1="383" y1="408.6" x2="394.6" y2="408.6" stroke="#2c2c2c" stroke-width="0.8"/>
<rect x="382.6" y="413.7" width="13.1" height="7.8" fill="none" stroke="#2c2c2c" stroke-width="0.8"/>
<line x1="380.2" y1="412.2" x2="398" y2="412.2" stroke="#3e3e3e" stroke-width="0.7"/>
<text transform="translate(400.6 414.85) scale(0.5 1)" font-size="8.89" text-anchor="middle" fill="#1c1c1c" stroke="#1c1c1c" stroke-width="0.32">p=140</text>
<text transform="translate(426.6 380.02) scale(0.46 1)" font-size="9.65" text-anchor="middle" fill="#1c1c1c" stroke="#1c1c1c" stroke-width="0.32">SPREMIŠTE</text>
<text transform="translate(425.8 390.32) scale(0.48 1)" font-size="9.65" text-anchor="middle" fill="#1c1c1c" stroke="#1c1c1c" stroke-width="0.32">KERAMIKA</text>
<text transform="translate(427 400.42) scale(0.51 1)" font-size="9.65" text-anchor="middle" fill="#1c1c1c" stroke="#1c1c1c" stroke-width="0.32">3.40 m2</text>
<line x1="425.2" y1="357.2" x2="432.5" y2="368" stroke="#333" stroke-width="0.6" stroke-dasharray="2.8 1.6"/>
<line x1="428.7" y1="421.5" x2="432.5" y2="411" stroke="#3e3e3e" stroke-width="0.6"/>
<line x1="414" y1="406.2" x2="423" y2="400" stroke="#3e3e3e" stroke-width="0.6"/>
</g>
<g clip-path="url(#clipR)">
<line x1="572.2" y1="125.6" x2="813.5" y2="125.6" stroke="#4a4a4a" stroke-width="0.8"/>
<line x1="578.3" y1="122.6" x2="578.3" y2="128.6" stroke="#3a3a3a" stroke-width="0.7"/>
<line x1="575.8" y1="128.1" x2="580.8" y2="123.1" stroke="#111" stroke-width="1.45"/>
<line x1="580" y1="122.6" x2="580" y2="128.6" stroke="#3a3a3a" stroke-width="0.7"/>
<line x1="577.5" y1="128.1" x2="582.5" y2="123.1" stroke="#111" stroke-width="1.45"/>
<line x1="634.8" y1="122.6" x2="634.8" y2="128.6" stroke="#3a3a3a" stroke-width="0.7"/>
<line x1="632.3" y1="128.1" x2="637.3" y2="123.1" stroke="#111" stroke-width="1.45"/>
<line x1="678.3" y1="122.6" x2="678.3" y2="128.6" stroke="#3a3a3a" stroke-width="0.7"/>
<line x1="675.8" y1="128.1" x2="680.8" y2="123.1" stroke="#111" stroke-width="1.45"/>
<line x1="715.3" y1="122.6" x2="715.3" y2="128.6" stroke="#3a3a3a" stroke-width="0.7"/>
<line x1="712.8" y1="128.1" x2="717.8" y2="123.1" stroke="#111" stroke-width="1.45"/>
<line x1="758.6" y1="122.6" x2="758.6" y2="128.6" stroke="#3a3a3a" stroke-width="0.7"/>
<line x1="756.1" y1="128.1" x2="761.1" y2="123.1" stroke="#111" stroke-width="1.45"/>
<text transform="translate(579.7 123.03) scale(0.5 1)" font-size="9.4" text-anchor="middle" fill="#1c1c1c" stroke="#1c1c1c" stroke-width="0.32">8</text>
<text transform="translate(607.8 123.03) scale(0.5 1)" font-size="9.4" text-anchor="middle" fill="#1c1c1c" stroke="#1c1c1c" stroke-width="0.32">175</text>
<text transform="translate(656.5 123.03) scale(0.5 1)" font-size="9.4" text-anchor="middle" fill="#1c1c1c" stroke="#1c1c1c" stroke-width="0.32">140</text>
<text transform="translate(696.9 123.03) scale(0.5 1)" font-size="9.4" text-anchor="middle" fill="#1c1c1c" stroke="#1c1c1c" stroke-width="0.32">120</text>
<text transform="translate(737 123.03) scale(0.5 1)" font-size="9.4" text-anchor="middle" fill="#1c1c1c" stroke="#1c1c1c" stroke-width="0.32">140</text>
<text transform="translate(803.1 123.03) scale(0.5 1)" font-size="9.4" text-anchor="middle" fill="#1c1c1c" stroke="#1c1c1c" stroke-width="0.32">285</text>
<line x1="572.2" y1="141.2" x2="813.5" y2="141.2" stroke="#4a4a4a" stroke-width="0.8"/>
<line x1="578.3" y1="138.2" x2="578.3" y2="144.2" stroke="#3a3a3a" stroke-width="0.7"/>
<line x1="575.8" y1="143.7" x2="580.8" y2="138.7" stroke="#111" stroke-width="1.45"/>
<line x1="580" y1="138.2" x2="580" y2="144.2" stroke="#3a3a3a" stroke-width="0.7"/>
<line x1="577.5" y1="143.7" x2="582.5" y2="138.7" stroke="#111" stroke-width="1.45"/>
<line x1="588.7" y1="138.2" x2="588.7" y2="144.2" stroke="#3a3a3a" stroke-width="0.7"/>
<line x1="586.2" y1="143.7" x2="591.2" y2="138.7" stroke="#111" stroke-width="1.45"/>
<line x1="705.4" y1="138.2" x2="705.4" y2="144.2" stroke="#3a3a3a" stroke-width="0.7"/>
<line x1="702.9" y1="143.7" x2="707.9" y2="138.7" stroke="#111" stroke-width="1.45"/>
<line x1="708.7" y1="138.2" x2="708.7" y2="144.2" stroke="#3a3a3a" stroke-width="0.7"/>
<line x1="706.2" y1="143.7" x2="711.2" y2="138.7" stroke="#111" stroke-width="1.45"/>
<line x1="792.2" y1="138.2" x2="792.2" y2="144.2" stroke="#3a3a3a" stroke-width="0.7"/>
<line x1="789.7" y1="143.7" x2="794.7" y2="138.7" stroke="#111" stroke-width="1.45"/>
<line x1="800.5" y1="138.2" x2="800.5" y2="144.2" stroke="#3a3a3a" stroke-width="0.7"/>
<line x1="798" y1="143.7" x2="803" y2="138.7" stroke="#111" stroke-width="1.45"/>
<text transform="translate(579.4 138.63) scale(0.5 1)" font-size="9.4" text-anchor="middle" fill="#1c1c1c" stroke="#1c1c1c" stroke-width="0.32">8</text>
<text transform="translate(584.8 138.63) scale(0.5 1)" font-size="9.4" text-anchor="middle" fill="#1c1c1c" stroke="#1c1c1c" stroke-width="0.32">25</text>
<text transform="translate(647 138.63) scale(0.5 1)" font-size="9.4" text-anchor="middle" fill="#1c1c1c" stroke="#1c1c1c" stroke-width="0.32">380</text>
<text transform="translate(707.4 138.63) scale(0.5 1)" font-size="9.4" text-anchor="middle" fill="#1c1c1c" stroke="#1c1c1c" stroke-width="0.32">10</text>
<text transform="translate(751 138.63) scale(0.5 1)" font-size="9.4" text-anchor="middle" fill="#1c1c1c" stroke="#1c1c1c" stroke-width="0.32">270</text>
<text transform="translate(796.5 138.63) scale(0.5 1)" font-size="9.4" text-anchor="middle" fill="#1c1c1c" stroke="#1c1c1c" stroke-width="0.32">25</text>
<line x1="572.2" y1="500" x2="813.5" y2="500" stroke="#4a4a4a" stroke-width="0.8"/>
<line x1="578.3" y1="497" x2="578.3" y2="503" stroke="#3a3a3a" stroke-width="0.7"/>
<line x1="575.8" y1="502.5" x2="580.8" y2="497.5" stroke="#111" stroke-width="1.45"/>
<line x1="580" y1="497" x2="580" y2="503" stroke="#3a3a3a" stroke-width="0.7"/>
<line x1="577.5" y1="502.5" x2="582.5" y2="497.5" stroke="#111" stroke-width="1.45"/>
<line x1="588.2" y1="497" x2="588.2" y2="503" stroke="#3a3a3a" stroke-width="0.7"/>
<line x1="585.7" y1="502.5" x2="590.7" y2="497.5" stroke="#111" stroke-width="1.45"/>
<line x1="660" y1="497" x2="660" y2="503" stroke="#3a3a3a" stroke-width="0.7"/>
<line x1="657.5" y1="502.5" x2="662.5" y2="497.5" stroke="#111" stroke-width="1.45"/>
<line x1="662.6" y1="497" x2="662.6" y2="503" stroke="#3a3a3a" stroke-width="0.7"/>
<line x1="660.1" y1="502.5" x2="665.1" y2="497.5" stroke="#111" stroke-width="1.45"/>
<line x1="705.8" y1="497" x2="705.8" y2="503" stroke="#3a3a3a" stroke-width="0.7"/>
<line x1="703.3" y1="502.5" x2="708.3" y2="497.5" stroke="#111" stroke-width="1.45"/>
<line x1="709" y1="497" x2="709" y2="503" stroke="#3a3a3a" stroke-width="0.7"/>
<line x1="706.5" y1="502.5" x2="711.5" y2="497.5" stroke="#111" stroke-width="1.45"/>
<line x1="792.2" y1="497" x2="792.2" y2="503" stroke="#3a3a3a" stroke-width="0.7"/>
<line x1="789.7" y1="502.5" x2="794.7" y2="497.5" stroke="#111" stroke-width="1.45"/>
<line x1="800.5" y1="497" x2="800.5" y2="503" stroke="#3a3a3a" stroke-width="0.7"/>
<line x1="798" y1="502.5" x2="803" y2="497.5" stroke="#111" stroke-width="1.45"/>
<text transform="translate(579.4 497.43) scale(0.5 1)" font-size="9.4" text-anchor="middle" fill="#1c1c1c" stroke="#1c1c1c" stroke-width="0.32">8</text>
<text transform="translate(584.8 497.43) scale(0.5 1)" font-size="9.4" text-anchor="middle" fill="#1c1c1c" stroke="#1c1c1c" stroke-width="0.32">25</text>
<text transform="translate(624 497.43) scale(0.5 1)" font-size="9.4" text-anchor="middle" fill="#1c1c1c" stroke="#1c1c1c" stroke-width="0.32">230</text>
<text transform="translate(661.4 497.43) scale(0.5 1)" font-size="9.4" text-anchor="middle" fill="#1c1c1c" stroke="#1c1c1c" stroke-width="0.32">10</text>
<text transform="translate(684.3 497.43) scale(0.5 1)" font-size="9.4" text-anchor="middle" fill="#1c1c1c" stroke="#1c1c1c" stroke-width="0.32">140</text>
<text transform="translate(707.5 497.43) scale(0.5 1)" font-size="9.4" text-anchor="middle" fill="#1c1c1c" stroke="#1c1c1c" stroke-width="0.32">10</text>
<text transform="translate(751 497.43) scale(0.5 1)" font-size="9.4" text-anchor="middle" fill="#1c1c1c" stroke="#1c1c1c" stroke-width="0.32">270</text>
<text transform="translate(796.5 497.43) scale(0.5 1)" font-size="9.4" text-anchor="middle" fill="#1c1c1c" stroke="#1c1c1c" stroke-width="0.32">25</text>
<line x1="572.2" y1="515.7" x2="813.5" y2="515.7" stroke="#4a4a4a" stroke-width="0.8"/>
<line x1="578.3" y1="512.7" x2="578.3" y2="518.7" stroke="#3a3a3a" stroke-width="0.7"/>
<line x1="575.8" y1="518.2" x2="580.8" y2="513.2" stroke="#111" stroke-width="1.45"/>
<line x1="580" y1="512.7" x2="580" y2="518.7" stroke="#3a3a3a" stroke-width="0.7"/>
<line x1="577.5" y1="518.2" x2="582.5" y2="513.2" stroke="#111" stroke-width="1.45"/>
<line x1="619.1" y1="512.7" x2="619.1" y2="518.7" stroke="#3a3a3a" stroke-width="0.7"/>
<line x1="616.6" y1="518.2" x2="621.6" y2="513.2" stroke="#111" stroke-width="1.45"/>
<line x1="637.9" y1="512.7" x2="637.9" y2="518.7" stroke="#3a3a3a" stroke-width="0.7"/>
<line x1="635.4" y1="518.2" x2="640.4" y2="513.2" stroke="#111" stroke-width="1.45"/>
<line x1="730.8" y1="512.7" x2="730.8" y2="518.7" stroke="#3a3a3a" stroke-width="0.7"/>
<line x1="728.3" y1="518.2" x2="733.3" y2="513.2" stroke="#111" stroke-width="1.45"/>
<line x1="755.1" y1="512.7" x2="755.1" y2="518.7" stroke="#3a3a3a" stroke-width="0.7"/>
<line x1="752.6" y1="518.2" x2="757.6" y2="513.2" stroke="#111" stroke-width="1.45"/>
<text transform="translate(579.7 513.13) scale(0.5 1)" font-size="9.4" text-anchor="middle" fill="#1c1c1c" stroke="#1c1c1c" stroke-width="0.32">8</text>
<text transform="translate(600.3 513.13) scale(0.5 1)" font-size="9.4" text-anchor="middle" fill="#1c1c1c" stroke="#1c1c1c" stroke-width="0.32">125</text>
<text transform="translate(628.3 513.13) scale(0.5 1)" font-size="9.4" text-anchor="middle" fill="#1c1c1c" stroke="#1c1c1c" stroke-width="0.32">60</text>
<text transform="translate(684.3 513.13) scale(0.5 1)" font-size="9.4" text-anchor="middle" fill="#1c1c1c" stroke="#1c1c1c" stroke-width="0.32">300</text>
<text transform="translate(743.5 513.13) scale(0.5 1)" font-size="9.4" text-anchor="middle" fill="#1c1c1c" stroke="#1c1c1c" stroke-width="0.32">80</text>
<text transform="translate(793.6 513.13) scale(0.5 1)" font-size="9.4" text-anchor="middle" fill="#1c1c1c" stroke="#1c1c1c" stroke-width="0.32">245</text>
<line x1="576.5" y1="531" x2="813.5" y2="531" stroke="#4a4a4a" stroke-width="0.8"/>
<line x1="577.9" y1="528" x2="577.9" y2="534" stroke="#3a3a3a" stroke-width="0.7"/>
<line x1="575.4" y1="533.5" x2="580.4" y2="528.5" stroke="#111" stroke-width="1.45"/>
<line x1="654.8" y1="528" x2="654.8" y2="534" stroke="#3a3a3a" stroke-width="0.7"/>
<line x1="652.3" y1="533.5" x2="657.3" y2="528.5" stroke="#111" stroke-width="1.45"/>
<line x1="755.1" y1="528" x2="755.1" y2="534" stroke="#3a3a3a" stroke-width="0.7"/>
<line x1="752.6" y1="533.5" x2="757.6" y2="528.5" stroke="#111" stroke-width="1.45"/>
<text transform="translate(616.5 528.43) scale(0.5 1)" font-size="9.4" text-anchor="middle" fill="#1c1c1c" stroke="#1c1c1c" stroke-width="0.32">248</text>
<text transform="translate(705.7 528.43) scale(0.5 1)" font-size="9.4" text-anchor="middle" fill="#1c1c1c" stroke="#1c1c1c" stroke-width="0.32">325</text>
<text transform="translate(810.4 528.43) scale(0.5 1)" font-size="9.4" text-anchor="middle" fill="#1c1c1c" stroke="#1c1c1c" stroke-width="0.32">36</text>
<line x1="500.9" y1="186.5" x2="500.9" y2="425.2" stroke="#4a4a4a" stroke-width="0.8"/>
<line x1="497.9" y1="186.5" x2="503.9" y2="186.5" stroke="#3a3a3a" stroke-width="0.7"/>
<line x1="498.4" y1="184" x2="503.4" y2="189" stroke="#111" stroke-width="1.45"/>
<line x1="497.9" y1="425.2" x2="503.9" y2="425.2" stroke="#3a3a3a" stroke-width="0.7"/>
<line x1="498.4" y1="422.7" x2="503.4" y2="427.7" stroke="#111" stroke-width="1.45"/>
<text transform="translate(494.6 305.35) rotate(-90) translate(0 3.38) scale(0.5 1)" font-size="9.4" text-anchor="middle" fill="#1c1c1c" stroke="#1c1c1c" stroke-width="0.32">771</text>
<line x1="516.2" y1="181.3" x2="516.2" y2="431.3" stroke="#4a4a4a" stroke-width="0.8"/>
<line x1="513.2" y1="187.4" x2="519.2" y2="187.4" stroke="#3a3a3a" stroke-width="0.7"/>
<line x1="513.7" y1="184.9" x2="518.7" y2="189.9" stroke="#111" stroke-width="1.45"/>
<line x1="513.2" y1="189" x2="519.2" y2="189" stroke="#3a3a3a" stroke-width="0.7"/>
<line x1="513.7" y1="186.5" x2="518.7" y2="191.5" stroke="#111" stroke-width="1.45"/>
<line x1="513.2" y1="299.6" x2="519.2" y2="299.6" stroke="#3a3a3a" stroke-width="0.7"/>
<line x1="513.7" y1="297.1" x2="518.7" y2="302.1" stroke="#111" stroke-width="1.45"/>
<line x1="513.2" y1="333.5" x2="519.2" y2="333.5" stroke="#3a3a3a" stroke-width="0.7"/>
<line x1="513.7" y1="331" x2="518.7" y2="336" stroke="#111" stroke-width="1.45"/>
<line x1="513.2" y1="423.5" x2="519.2" y2="423.5" stroke="#3a3a3a" stroke-width="0.7"/>
<line x1="513.7" y1="421" x2="518.7" y2="426" stroke="#111" stroke-width="1.45"/>
<line x1="513.2" y1="425.2" x2="519.2" y2="425.2" stroke="#3a3a3a" stroke-width="0.7"/>
<line x1="513.7" y1="422.7" x2="518.7" y2="427.7" stroke="#111" stroke-width="1.45"/>
<text transform="translate(509.9 187.85) rotate(-90) translate(0 3.38) scale(0.5 1)" font-size="9.4" text-anchor="middle" fill="#1c1c1c" stroke="#1c1c1c" stroke-width="0.32">8</text>
<text transform="translate(509.9 244.05) rotate(-90) translate(0 3.38) scale(0.5 1)" font-size="9.4" text-anchor="middle" fill="#1c1c1c" stroke="#1c1c1c" stroke-width="0.32">355</text>
<text transform="translate(509.9 316.25) rotate(-90) translate(0 3.38) scale(0.5 1)" font-size="9.4" text-anchor="middle" fill="#1c1c1c" stroke="#1c1c1c" stroke-width="0.32">110</text>
<text transform="translate(509.9 374.85) rotate(-90) translate(0 3.38) scale(0.5 1)" font-size="9.4" text-anchor="middle" fill="#1c1c1c" stroke="#1c1c1c" stroke-width="0.32">290</text>
<text transform="translate(509.9 424.25) rotate(-90) translate(0 3.38) scale(0.5 1)" font-size="9.4" text-anchor="middle" fill="#1c1c1c" stroke="#1c1c1c" stroke-width="0.32">8</text>
<line x1="531.7" y1="181.3" x2="531.7" y2="431.3" stroke="#4a4a4a" stroke-width="0.8"/>
<line x1="528.7" y1="187.4" x2="534.7" y2="187.4" stroke="#3a3a3a" stroke-width="0.7"/>
<line x1="529.2" y1="184.9" x2="534.2" y2="189.9" stroke="#111" stroke-width="1.45"/>
<line x1="528.7" y1="189" x2="534.7" y2="189" stroke="#3a3a3a" stroke-width="0.7"/>
<line x1="529.2" y1="186.5" x2="534.2" y2="191.5" stroke="#111" stroke-width="1.45"/>
<line x1="528.7" y1="197.5" x2="534.7" y2="197.5" stroke="#3a3a3a" stroke-width="0.7"/>
<line x1="529.2" y1="195" x2="534.2" y2="200" stroke="#111" stroke-width="1.45"/>
<line x1="528.7" y1="287.4" x2="534.7" y2="287.4" stroke="#3a3a3a" stroke-width="0.7"/>
<line x1="529.2" y1="284.9" x2="534.2" y2="289.9" stroke="#111" stroke-width="1.45"/>
<line x1="528.7" y1="290" x2="534.7" y2="290" stroke="#3a3a3a" stroke-width="0.7"/>
<line x1="529.2" y1="287.5" x2="534.2" y2="292.5" stroke="#111" stroke-width="1.45"/>
<line x1="528.7" y1="345.7" x2="534.7" y2="345.7" stroke="#3a3a3a" stroke-width="0.7"/>
<line x1="529.2" y1="343.2" x2="534.2" y2="348.2" stroke="#111" stroke-width="1.45"/>
<line x1="528.7" y1="350" x2="534.7" y2="350" stroke="#3a3a3a" stroke-width="0.7"/>
<line x1="529.2" y1="347.5" x2="534.2" y2="352.5" stroke="#111" stroke-width="1.45"/>
<line x1="528.7" y1="415.3" x2="534.7" y2="415.3" stroke="#3a3a3a" stroke-width="0.7"/>
<line x1="529.2" y1="412.8" x2="534.2" y2="417.8" stroke="#111" stroke-width="1.45"/>
<line x1="528.7" y1="423.5" x2="534.7" y2="423.5" stroke="#3a3a3a" stroke-width="0.7"/>
<line x1="529.2" y1="421" x2="534.2" y2="426" stroke="#111" stroke-width="1.45"/>
<line x1="528.7" y1="425.2" x2="534.7" y2="425.2" stroke="#3a3a3a" stroke-width="0.7"/>
<line x1="529.2" y1="422.7" x2="534.2" y2="427.7" stroke="#111" stroke-width="1.45"/>
<text transform="translate(525.4 187.25) rotate(-90) translate(0 3.38) scale(0.5 1)" font-size="9.4" text-anchor="middle" fill="#1c1c1c" stroke="#1c1c1c" stroke-width="0.32">8</text>
<text transform="translate(525.4 192.85) rotate(-90) translate(0 3.38) scale(0.5 1)" font-size="9.4" text-anchor="middle" fill="#1c1c1c" stroke="#1c1c1c" stroke-width="0.32">25</text>
<text transform="translate(525.4 242.65) rotate(-90) translate(0 3.38) scale(0.5 1)" font-size="9.4" text-anchor="middle" fill="#1c1c1c" stroke="#1c1c1c" stroke-width="0.32">295</text>
<text transform="translate(525.4 289.25) rotate(-90) translate(0 3.38) scale(0.5 1)" font-size="9.4" text-anchor="middle" fill="#1c1c1c" stroke="#1c1c1c" stroke-width="0.32">10</text>
<text transform="translate(525.4 317.45) rotate(-90) translate(0 3.38) scale(0.5 1)" font-size="9.4" text-anchor="middle" fill="#1c1c1c" stroke="#1c1c1c" stroke-width="0.32">175</text>
<text transform="translate(525.4 347.05) rotate(-90) translate(0 3.38) scale(0.5 1)" font-size="9.4" text-anchor="middle" fill="#1c1c1c" stroke="#1c1c1c" stroke-width="0.32">15</text>
<text transform="translate(525.4 381.35) rotate(-90) translate(0 3.38) scale(0.5 1)" font-size="9.4" text-anchor="middle" fill="#1c1c1c" stroke="#1c1c1c" stroke-width="0.32">210</text>
<text transform="translate(525.4 418.95) rotate(-90) translate(0 3.38) scale(0.5 1)" font-size="9.4" text-anchor="middle" fill="#1c1c1c" stroke="#1c1c1c" stroke-width="0.32">25</text>
<text transform="translate(525.4 424.85) rotate(-90) translate(0 3.38) scale(0.5 1)" font-size="9.4" text-anchor="middle" fill="#1c1c1c" stroke="#1c1c1c" stroke-width="0.32">8</text>
<path d="M547 399.8 L555.2 389.9 L563.4 399.8 Z" fill="#000" stroke="#000" stroke-width="0.5"/>
<line x1="547" y1="399.8" x2="570.4" y2="399.8" stroke="#000" stroke-width="1"/>
<text transform="translate(556 421.16) scale(0.72 1)" font-size="21" text-anchor="middle" fill="#222">2</text>
<circle cx="584.7" cy="172.7" r="7.2" fill="none" stroke="#2c2c2c" stroke-width="0.8"/>
<text transform="translate(584.5 176.69) scale(0.76 1)" font-size="10.8" text-anchor="middle" fill="#3a3a3a" font-style="italic">Z2</text>
<circle cx="607.8" cy="172.7" r="7.2" fill="none" stroke="#2c2c2c" stroke-width="0.8"/>
<text transform="translate(607.6 176.69) scale(0.76 1)" font-size="10.8" text-anchor="middle" fill="#3a3a3a" font-style="italic">Z1</text>
<circle cx="631" cy="172.7" r="7.2" fill="none" stroke="#2c2c2c" stroke-width="0.8"/>
<text transform="translate(630.8 176.69) scale(0.76 1)" font-size="10.8" text-anchor="middle" fill="#3a3a3a" font-style="italic">Z2</text>
<circle cx="696.9" cy="172.7" r="7.2" fill="none" stroke="#2c2c2c" stroke-width="0.8"/>
<text transform="translate(696.7 176.69) scale(0.76 1)" font-size="10.8" text-anchor="middle" fill="#3a3a3a" font-style="italic">Z1</text>
<circle cx="778.8" cy="172.7" r="7.2" fill="none" stroke="#2c2c2c" stroke-width="0.8"/>
<text transform="translate(778.6 176.69) scale(0.76 1)" font-size="10.8" text-anchor="middle" fill="#3a3a3a" font-style="italic">Z1</text>
<circle cx="796.5" cy="172.7" r="7.2" fill="none" stroke="#2c2c2c" stroke-width="0.8"/>
<text transform="translate(796.3 176.69) scale(0.76 1)" font-size="10.8" text-anchor="middle" fill="#3a3a3a" font-style="italic">Z2</text>
<circle cx="656.9" cy="173.3" r="8.1" fill="none" stroke="#2c2c2c" stroke-width="0.8"/>
<circle cx="737" cy="173.3" r="8.1" fill="none" stroke="#2c2c2c" stroke-width="0.8"/>
<line x1="584.7" y1="179.9" x2="584.7" y2="221.6" stroke="#3e3e3e" stroke-width="0.6"/>
<line x1="607.8" y1="179.9" x2="607.8" y2="221" stroke="#3e3e3e" stroke-width="0.6"/>
<line x1="631" y1="179.9" x2="631" y2="221" stroke="#3e3e3e" stroke-width="0.6"/>
<line x1="656.9" y1="181.4" x2="656.9" y2="221.5" stroke="#3e3e3e" stroke-width="0.6"/>
<line x1="696.9" y1="179.9" x2="696.9" y2="221" stroke="#3e3e3e" stroke-width="0.6"/>
<line x1="737" y1="181.4" x2="737" y2="217.4" stroke="#3e3e3e" stroke-width="0.6"/>
<line x1="778.8" y1="179.9" x2="778.8" y2="217.4" stroke="#3e3e3e" stroke-width="0.6"/>
<line x1="796.5" y1="179.9" x2="796.5" y2="221.5" stroke="#3e3e3e" stroke-width="0.6"/>
<circle cx="563.6" cy="265.7" r="7.2" fill="none" stroke="#2c2c2c" stroke-width="0.8"/>
<text transform="translate(563.4 269.69) scale(0.76 1)" font-size="10.8" text-anchor="middle" fill="#3a3a3a" font-style="italic">Z1</text>
<circle cx="563.6" cy="346.5" r="7.2" fill="none" stroke="#2c2c2c" stroke-width="0.8"/>
<text transform="translate(563.4 350.49) scale(0.76 1)" font-size="10.8" text-anchor="middle" fill="#3a3a3a" font-style="italic">Z2</text>
<circle cx="563.6" cy="378.8" r="7.2" fill="none" stroke="#2c2c2c" stroke-width="0.8"/>
<text transform="translate(563.4 382.79) scale(0.76 1)" font-size="10.8" text-anchor="middle" fill="#3a3a3a" font-style="italic">Z1</text>
<circle cx="563.6" cy="419.7" r="7.2" fill="none" stroke="#2c2c2c" stroke-width="0.8"/>
<text transform="translate(563.4 423.69) scale(0.76 1)" font-size="10.8" text-anchor="middle" fill="#3a3a3a" font-style="italic">Z2</text>
<circle cx="564" cy="316.6" r="8.1" fill="none" stroke="#2c2c2c" stroke-width="0.8"/>
<line x1="570.8" y1="265.7" x2="611.8" y2="265.7" stroke="#3e3e3e" stroke-width="0.6"/>
<line x1="572.1" y1="316.6" x2="612.6" y2="316.6" stroke="#3e3e3e" stroke-width="0.6"/>
<line x1="570.8" y1="346.5" x2="588" y2="346.5" stroke="#3e3e3e" stroke-width="0.6"/>
<line x1="570.8" y1="378.8" x2="612.6" y2="378.8" stroke="#3e3e3e" stroke-width="0.6"/>
<line x1="570.8" y1="419.7" x2="588" y2="419.7" stroke="#3e3e3e" stroke-width="0.6"/>
<circle cx="600" cy="440.4" r="7.2" fill="none" stroke="#2c2c2c" stroke-width="0.8"/>
<text transform="translate(599.8 444.39) scale(0.76 1)" font-size="10.8" text-anchor="middle" fill="#3a3a3a" font-style="italic">Z1</text>
<circle cx="642.2" cy="440.4" r="7.2" fill="none" stroke="#2c2c2c" stroke-width="0.8"/>
<text transform="translate(642 444.39) scale(0.76 1)" font-size="10.8" text-anchor="middle" fill="#3a3a3a" font-style="italic">Z2</text>
<circle cx="684.4" cy="440.4" r="7.2" fill="none" stroke="#2c2c2c" stroke-width="0.8"/>
<text transform="translate(684.2 444.39) scale(0.76 1)" font-size="10.8" text-anchor="middle" fill="#3a3a3a" font-style="italic">Z1</text>
<circle cx="726.4" cy="440.4" r="7.2" fill="none" stroke="#2c2c2c" stroke-width="0.8"/>
<text transform="translate(726.2 444.39) scale(0.76 1)" font-size="10.8" text-anchor="middle" fill="#3a3a3a" font-style="italic">Z2</text>
<circle cx="771.8" cy="440.4" r="7.2" fill="none" stroke="#2c2c2c" stroke-width="0.8"/>
<text transform="translate(771.6 444.39) scale(0.76 1)" font-size="10.8" text-anchor="middle" fill="#3a3a3a" font-style="italic">Z1</text>
<circle cx="796.9" cy="440.4" r="7.2" fill="none" stroke="#2c2c2c" stroke-width="0.8"/>
<text transform="translate(796.7 444.39) scale(0.76 1)" font-size="10.8" text-anchor="middle" fill="#3a3a3a" font-style="italic">Z2</text>
<circle cx="812.6" cy="440.4" r="7.2" fill="none" stroke="#2c2c2c" stroke-width="0.8"/>
<text transform="translate(812.4 444.39) scale(0.76 1)" font-size="10.8" text-anchor="middle" fill="#3a3a3a" font-style="italic">Z1</text>
<circle cx="628.2" cy="439.6" r="8.1" fill="none" stroke="#2c2c2c" stroke-width="0.8"/>
<circle cx="743.5" cy="439.6" r="8.1" fill="none" stroke="#2c2c2c" stroke-width="0.8"/>
<line x1="600" y1="433.2" x2="600" y2="392" stroke="#3e3e3e" stroke-width="0.6"/>
<line x1="628.2" y1="431.5" x2="628.2" y2="391.5" stroke="#3e3e3e" stroke-width="0.6"/>
<line x1="642.2" y1="433.2" x2="642.2" y2="391.5" stroke="#3e3e3e" stroke-width="0.6"/>
<line x1="684.4" y1="433.2" x2="684.4" y2="377.8" stroke="#3e3e3e" stroke-width="0.6"/>
<line x1="726.4" y1="433.2" x2="726.4" y2="391.7" stroke="#3e3e3e" stroke-width="0.6"/>
<line x1="743.5" y1="431.5" x2="743.5" y2="391.7" stroke="#3e3e3e" stroke-width="0.6"/>
<line x1="771.8" y1="433.2" x2="771.8" y2="391.7" stroke="#3e3e3e" stroke-width="0.6"/>
<line x1="796.9" y1="433.2" x2="796.9" y2="391.7" stroke="#3e3e3e" stroke-width="0.6"/>
<path d="M813.5 187.3 L578.3 187.3 L578.3 425.1 L813.5 425.1" fill="none" stroke="#555" stroke-width="0.55"/>
<line x1="580.8" y1="189.6" x2="580.8" y2="423.4" stroke="#161616" stroke-width="1"/>
<line x1="588.3" y1="197.4" x2="588.3" y2="415.7" stroke="#161616" stroke-width="1"/>
<line x1="580.8" y1="189.6" x2="813.5" y2="189.6" stroke="#161616" stroke-width="1"/>
<line x1="588.3" y1="197.4" x2="635.2" y2="197.4" stroke="#161616" stroke-width="1"/>
<line x1="677.8" y1="197.4" x2="715.6" y2="197.4" stroke="#161616" stroke-width="1.1"/>
<line x1="758.3" y1="197.4" x2="813.5" y2="197.4" stroke="#161616" stroke-width="1"/>
<line x1="677.8" y1="189.6" x2="677.8" y2="197.4" stroke="#161616" stroke-width="1.1"/>
<line x1="715.6" y1="189.6" x2="715.6" y2="197.4" stroke="#161616" stroke-width="1.1"/>
<rect x="580.8" y="189.6" width="8" height="7.8" fill="url(#hatch)" stroke="#111" stroke-width="1.15"/>
<rect x="627.2" y="189.6" width="8" height="7.8" fill="url(#hatch)" stroke="#111" stroke-width="1.15"/>
<rect x="758.3" y="189.6" width="8" height="7.8" fill="url(#hatch)" stroke="#111" stroke-width="1.15"/>
<rect x="792.8" y="189.6" width="8" height="7.8" fill="url(#hatch)" stroke="#111" stroke-width="1.15"/>
<line x1="590.9" y1="199.6" x2="631.7" y2="199.6" stroke="#555" stroke-width="1.4"/>
<line x1="635.2" y1="193" x2="677.8" y2="193" stroke="#3e3e3e" stroke-width="0.6"/>
<line x1="637" y1="191" x2="651" y2="191" stroke="#333" stroke-width="1.7"/>
<line x1="651.6" y1="189.6" x2="651.6" y2="197.4" stroke="#3e3e3e" stroke-width="0.6"/>
<path d="M651.7 193.5 Q653.6 212.6 676.4 213.9" fill="none" stroke="#3e3e3e" stroke-width="0.7"/>
<line x1="676.4" y1="197.4" x2="676.4" y2="213.9" stroke="#2c2c2c" stroke-width="0.8"/>
<line x1="651.6" y1="197.4" x2="677.8" y2="197.4" stroke="#3e3e3e" stroke-width="0.6"/>
<text transform="translate(640.4 204.56) scale(0.5 1)" font-size="8.64" text-anchor="middle" fill="#1c1c1c" stroke="#1c1c1c" stroke-width="0.32">p=20</text>
<text transform="translate(651.4 205.85) rotate(-90) translate(0 3.47) scale(0.55 1)" font-size="9.65" text-anchor="middle" fill="#1c1c1c" stroke="#1c1c1c" stroke-width="0.32">140</text>
<text transform="translate(661.4 205.25) rotate(-90) translate(0 3.38) scale(0.51 1)" font-size="9.4" text-anchor="middle" fill="#1c1c1c" stroke="#1c1c1c" stroke-width="0.32">190+20</text>
<line x1="715.6" y1="193" x2="758.3" y2="193" stroke="#3e3e3e" stroke-width="0.6"/>
<line x1="742.6" y1="191" x2="756.6" y2="191" stroke="#333" stroke-width="1.7"/>
<line x1="741.6" y1="189.6" x2="741.6" y2="197.4" stroke="#3e3e3e" stroke-width="0.6"/>
<path d="M717.4 214.8 Q739 213 741 197.6" fill="none" stroke="#3e3e3e" stroke-width="0.7"/>
<line x1="717.4" y1="197.4" x2="717.4" y2="214.8" stroke="#2c2c2c" stroke-width="0.8"/>
<line x1="715.6" y1="197.4" x2="741.6" y2="197.4" stroke="#3e3e3e" stroke-width="0.6"/>
<text transform="translate(752.8 205.16) scale(0.5 1)" font-size="8.64" text-anchor="middle" fill="#1c1c1c" stroke="#1c1c1c" stroke-width="0.32">p=20</text>
<text transform="translate(732.2 206.05) rotate(-90) translate(0 3.47) scale(0.55 1)" font-size="9.65" text-anchor="middle" fill="#1c1c1c" stroke="#1c1c1c" stroke-width="0.32">140</text>
<text transform="translate(741.8 205.65) rotate(-90) translate(0 3.38) scale(0.51 1)" font-size="9.4" text-anchor="middle" fill="#1c1c1c" stroke="#1c1c1c" stroke-width="0.32">190+20</text>
<line x1="803.5" y1="199.6" x2="812.4" y2="199.6" stroke="#555" stroke-width="1.3"/>
<line x1="706.3" y1="197.4" x2="706.3" y2="279.5" stroke="#161616" stroke-width="1"/>
<line x1="709.6" y1="197.4" x2="709.6" y2="282.6" stroke="#161616" stroke-width="1"/>
<line x1="706.3" y1="343.9" x2="706.3" y2="415.7" stroke="#161616" stroke-width="1"/>
<line x1="709.6" y1="343.9" x2="709.6" y2="415.7" stroke="#161616" stroke-width="1"/>
<line x1="706.3" y1="282.6" x2="706.3" y2="343.9" stroke="#3e3e3e" stroke-width="0.6" stroke-dasharray="2.6 1.5"/>
<line x1="709.6" y1="284.8" x2="709.6" y2="343.9" stroke="#3e3e3e" stroke-width="0.6" stroke-dasharray="2.6 1.5"/>
<path d="M688.3 197.4 L688.3 245.2 L706.3 245.2" fill="none" stroke="#3e3e3e" stroke-width="0.7"/>
<line x1="711.8" y1="225.2" x2="711.8" y2="265.2" stroke="#777" stroke-width="1.6"/>
<path d="M724.8 238.6 L715.2 245.4 L724.8 252.2" fill="none" stroke="#3e3e3e" stroke-width="0.7"/>
<line x1="588.3" y1="288.4" x2="674.3" y2="288.4" stroke="#161616" stroke-width="1"/>
<line x1="588.3" y1="291.6" x2="671.7" y2="291.6" stroke="#161616" stroke-width="1"/>
<path d="M674.3 288.4 L675.2 282.6 L677 279.5" fill="none" stroke="#3e3e3e" stroke-width="0.7"/>
<line x1="671.7" y1="291.6" x2="671.7" y2="296.2" stroke="#161616" stroke-width="1"/>
<line x1="675.2" y1="282.6" x2="675.2" y2="296.2" stroke="#161616" stroke-width="1"/>
<line x1="671.7" y1="296.2" x2="675.2" y2="296.2" stroke="#2c2c2c" stroke-width="0.8"/>
<line x1="671.7" y1="296.2" x2="671.7" y2="319.6" stroke="#3e3e3e" stroke-width="0.6" stroke-dasharray="2.6 1.5"/>
<line x1="675.2" y1="296.2" x2="675.2" y2="319.6" stroke="#3e3e3e" stroke-width="0.6" stroke-dasharray="2.6 1.5"/>
<line x1="671.7" y1="319.6" x2="671.7" y2="347.4" stroke="#161616" stroke-width="1"/>
<line x1="675.2" y1="319.6" x2="675.2" y2="350" stroke="#161616" stroke-width="1"/>
<line x1="671.7" y1="319.6" x2="675.2" y2="319.6" stroke="#2c2c2c" stroke-width="0.8"/>
<line x1="588.3" y1="344.8" x2="671.7" y2="344.8" stroke="#2c2c2c" stroke-width="0.8"/>
<line x1="588.3" y1="347.4" x2="671.7" y2="347.4" stroke="#161616" stroke-width="1"/>
<line x1="588.3" y1="350.1" x2="675.2" y2="350.1" stroke="#161616" stroke-width="1.3"/>
<rect x="580.8" y="342.3" width="7.5" height="7.8" fill="url(#hatch)" stroke="#111" stroke-width="1.15"/>
<rect x="588.3" y="342.6" width="2.5" height="2.8" fill="none" stroke="#3e3e3e" stroke-width="0.6"/>
<line x1="677" y1="279.5" x2="705.7" y2="279.5" stroke="#3e3e3e" stroke-width="0.6" stroke-dasharray="2.6 1.5"/>
<line x1="677" y1="282.6" x2="705.7" y2="282.6" stroke="#3e3e3e" stroke-width="0.6" stroke-dasharray="2.6 1.5"/>
<path d="M679 281 Q680.6 257.8 702.2 254.8" fill="none" stroke="#3e3e3e" stroke-width="0.7"/>
<line x1="690.4" y1="254.8" x2="690.4" y2="301.3" stroke="#3e3e3e" stroke-width="0.6"/>
<text transform="translate(684.8 264.85) rotate(-90) translate(0 3.47) scale(0.55 1)" font-size="9.65" text-anchor="middle" fill="#1c1c1c" stroke="#1c1c1c" stroke-width="0.32">80</text>
<text transform="translate(695.8 264.65) rotate(-90) translate(0 3.47) scale(0.55 1)" font-size="9.65" text-anchor="middle" fill="#1c1c1c" stroke="#1c1c1c" stroke-width="0.32">215</text>
<line x1="707" y1="313.1" x2="792.8" y2="313.1" stroke="#161616" stroke-width="1.2"/>
<line x1="709.6" y1="316.5" x2="792.8" y2="316.5" stroke="#161616" stroke-width="1.2"/>
<line x1="707.6" y1="311.6" x2="707.6" y2="318" stroke="#161616" stroke-width="1.6"/>
<line x1="792.8" y1="197.4" x2="792.8" y2="415.7" stroke="#161616" stroke-width="1"/>
<line x1="800.8" y1="197.4" x2="800.8" y2="415.7" stroke="#161616" stroke-width="1"/>
<rect x="792.8" y="342.7" width="8" height="7.5" fill="url(#hatch)" stroke="#111" stroke-width="1.15"/>
<path d="M813.5 275.8 L806.4 275.8 L806.4 287.8" fill="none" stroke="#2c2c2c" stroke-width="0.8"/>
<line x1="800.8" y1="288.8" x2="813.5" y2="288.8" stroke="#333" stroke-width="1.6"/>
<line x1="800.8" y1="291.6" x2="813.5" y2="291.6" stroke="#3e3e3e" stroke-width="0.7"/>
<line x1="800.8" y1="339.6" x2="813.5" y2="339.6" stroke="#2c2c2c" stroke-width="0.8"/>
<line x1="800.8" y1="343.6" x2="813.5" y2="343.6" stroke="#555" stroke-width="1.6"/>
<line x1="800.8" y1="346.6" x2="813.5" y2="346.6" stroke="#161616" stroke-width="1"/>
<line x1="800.8" y1="350.2" x2="813.5" y2="350.2" stroke="#161616" stroke-width="1"/>
<path d="M813 327.8 A4 4 0 0 0 813 335.6" fill="none" stroke="#3e3e3e" stroke-width="0.7"/>
<line x1="800.8" y1="364.8" x2="813.5" y2="371.8" stroke="#3e3e3e" stroke-width="0.6"/>
<line x1="800.8" y1="382.2" x2="813.5" y2="382.2" stroke="#3e3e3e" stroke-width="0.6"/>
<line x1="813.5" y1="394.3" x2="800.8" y2="401.3" stroke="#3e3e3e" stroke-width="0.6"/>
<line x1="800.8" y1="400.1" x2="813.5" y2="400.1" stroke="#3e3e3e" stroke-width="0.6"/>
<line x1="580.8" y1="423.4" x2="813.5" y2="423.4" stroke="#161616" stroke-width="1.1"/>
<line x1="588.3" y1="415.7" x2="723.1" y2="415.7" stroke="#161616" stroke-width="1"/>
<line x1="755.7" y1="415.7" x2="792.8" y2="415.7" stroke="#161616" stroke-width="1"/>
<line x1="800.8" y1="415.7" x2="813.5" y2="415.7" stroke="#161616" stroke-width="1"/>
<rect x="580.8" y="415.7" width="8" height="7.7" fill="url(#hatch)" stroke="#111" stroke-width="1.15"/>
<rect x="611.8" y="415.7" width="8" height="7.7" fill="url(#hatch)" stroke="#111" stroke-width="1.15"/>
<rect x="638" y="415.7" width="8" height="7.7" fill="url(#hatch)" stroke="#111" stroke-width="1.15"/>
<rect x="723.2" y="415.7" width="8" height="7.7" fill="url(#hatch)" stroke="#111" stroke-width="1.15"/>
<rect x="792.8" y="415.7" width="8" height="7.7" fill="url(#hatch)" stroke="#111" stroke-width="1.15"/>
<line x1="588.8" y1="420.6" x2="611.8" y2="420.6" stroke="#3e3e3e" stroke-width="0.6"/>
<line x1="619.8" y1="421.6" x2="638" y2="421.6" stroke="#444" stroke-width="1.5"/>
<line x1="619.8" y1="415.7" x2="619.8" y2="423.4" stroke="#3e3e3e" stroke-width="0.6"/>
<line x1="660.2" y1="381.3" x2="660.2" y2="415.7" stroke="#161616" stroke-width="1"/>
<line x1="663.1" y1="360.4" x2="663.1" y2="415.7" stroke="#161616" stroke-width="1"/>
<line x1="660.2" y1="381.3" x2="663.1" y2="381.3" stroke="#2c2c2c" stroke-width="0.8"/>
<rect x="606.9" y="226.6" width="56.1" height="61" fill="none" stroke="#333" stroke-width="1"/>
<path d="M608.7 287.6 L608.7 228.4 L661.2 228.4 L661.2 287.6" fill="none" stroke="#3e3e3e" stroke-width="0.6"/>
<line x1="608.7" y1="260.3" x2="661.2" y2="260.3" stroke="#3e3e3e" stroke-width="0.7"/>
<line x1="608.7" y1="270.2" x2="661.2" y2="270.2" stroke="#3e3e3e" stroke-width="0.7"/>
<rect x="611.4" y="272.2" width="21" height="13.6" fill="none" stroke="#3e3e3e" stroke-width="0.7"/>
<rect x="637.4" y="272.2" width="21.2" height="13.6" fill="none" stroke="#3e3e3e" stroke-width="0.7"/>
<rect x="594.3" y="276" width="12.6" height="11.6" fill="none" stroke="#3e3e3e" stroke-width="0.7"/>
<rect x="663" y="279" width="12.2" height="8.6" fill="none" stroke="#3e3e3e" stroke-width="0.7"/>
<text transform="translate(635.2 238.52) scale(0.51 1)" font-size="9.65" text-anchor="middle" fill="#1c1c1c" stroke="#1c1c1c" stroke-width="0.32">SOBA 1</text>
<text transform="translate(634.6 248.92) scale(0.51 1)" font-size="9.65" text-anchor="middle" fill="#1c1c1c" stroke="#1c1c1c" stroke-width="0.32">PARKET</text>
<text transform="translate(635.2 259.22) scale(0.51 1)" font-size="9.65" text-anchor="middle" fill="#1c1c1c" stroke="#1c1c1c" stroke-width="0.32">10.90 m2</text>
<path d="M603.6 213.4 L611.4 203.6 L619.2 213.4" fill="none" stroke="#3e3e3e" stroke-width="0.7"/>
<rect x="730.8" y="217.4" width="61.4" height="55.6" fill="none" stroke="#333" stroke-width="1"/>
<path d="M792.2 219.2 L732.6 219.2 L732.6 271.2 L792.2 271.2" fill="none" stroke="#3e3e3e" stroke-width="0.6"/>
<rect x="764.7" y="218.6" width="9.2" height="53.4" fill="none" stroke="#3e3e3e" stroke-width="0.7" rx="1.2"/>
<rect x="776.2" y="221.4" width="14.2" height="21.2" fill="none" stroke="#3e3e3e" stroke-width="0.7"/>
<rect x="776.2" y="248.3" width="14.2" height="21.3" fill="none" stroke="#3e3e3e" stroke-width="0.7"/>
<path d="M778.3 217.4 L778.3 202.6 L792.8 202.6" fill="none" stroke="#3e3e3e" stroke-width="0.7"/>
<line x1="778.3" y1="206" x2="792.8" y2="206" stroke="#3e3e3e" stroke-width="0.6"/>
<path d="M778.3 273 L778.3 287 L792.8 287" fill="none" stroke="#3e3e3e" stroke-width="0.7"/>
<text transform="translate(750 235.92) scale(0.51 1)" font-size="9.65" text-anchor="middle" fill="#1c1c1c" stroke="#1c1c1c" stroke-width="0.32">SOBA 2</text>
<text transform="translate(749.6 246.22) scale(0.51 1)" font-size="9.65" text-anchor="middle" fill="#1c1c1c" stroke="#1c1c1c" stroke-width="0.32">PARKET</text>
<text transform="translate(750 257.12) scale(0.51 1)" font-size="9.65" text-anchor="middle" fill="#1c1c1c" stroke="#1c1c1c" stroke-width="0.32">10.10 m2</text>
<path d="M792.8 294.9 L743.5 294.9 L743.5 312.6" fill="none" stroke="#3e3e3e" stroke-width="0.7"/>
<path d="M792.8 335.2 L743.5 335.2 L743.5 316.5" fill="none" stroke="#3e3e3e" stroke-width="0.7"/>
<path d="M709 284.8 Q733.6 288 734.8 310.2" fill="none" stroke="#3e3e3e" stroke-width="0.7"/>
<line x1="709.6" y1="310.2" x2="734.8" y2="310.2" stroke="#3e3e3e" stroke-width="0.7"/>
<text transform="translate(723.6 295.64) scale(0.5 1)" font-size="9.14" text-anchor="middle" fill="#1c1c1c" stroke="#1c1c1c" stroke-width="0.32">90</text>
<text transform="translate(723.6 306.04) scale(0.5 1)" font-size="9.14" text-anchor="middle" fill="#1c1c1c" stroke="#1c1c1c" stroke-width="0.32">215</text>
<line x1="697.4" y1="297.8" x2="734.8" y2="297.8" stroke="#3e3e3e" stroke-width="0.6"/>
<path d="M734.8 319.4 Q733 341.6 709 343.9" fill="none" stroke="#3e3e3e" stroke-width="0.7"/>
<line x1="709.6" y1="319.4" x2="734.8" y2="319.4" stroke="#3e3e3e" stroke-width="0.7"/>
<text transform="translate(723.8 330.04) scale(0.5 1)" font-size="9.14" text-anchor="middle" fill="#1c1c1c" stroke="#1c1c1c" stroke-width="0.32">90</text>
<text transform="translate(723.6 340.04) scale(0.5 1)" font-size="9.14" text-anchor="middle" fill="#1c1c1c" stroke="#1c1c1c" stroke-width="0.32">215</text>
<line x1="693.6" y1="331.7" x2="734.8" y2="331.7" stroke="#3e3e3e" stroke-width="0.6"/>
<line x1="612.6" y1="291.6" x2="612.6" y2="340.4" stroke="#3e3e3e" stroke-width="0.7"/>
<line x1="589" y1="340.4" x2="612.6" y2="340.4" stroke="#3e3e3e" stroke-width="0.7"/>
<line x1="582.6" y1="300.4" x2="582.6" y2="331.7" stroke="#333" stroke-width="1.5"/>
<line x1="580.8" y1="298.6" x2="588.3" y2="298.6" stroke="#3e3e3e" stroke-width="0.6"/>
<line x1="580.8" y1="333.5" x2="588.3" y2="333.5" stroke="#3e3e3e" stroke-width="0.6"/>
<rect x="592.6" y="292.6" width="5.2" height="4.8" fill="none" stroke="#3e3e3e" stroke-width="0.7"/>
<path d="M593.6 297.4 L594.4 302.6 L596.4 302.6 L597 297.4" fill="none" stroke="#3e3e3e" stroke-width="0.6"/>
<line x1="592.8" y1="303.6" x2="598.4" y2="303.6" stroke="#2c2c2c" stroke-width="0.8"/>
<text transform="translate(602.2 314.73) scale(0.5 1)" font-size="9.4" text-anchor="middle" fill="#1c1c1c" stroke="#1c1c1c" stroke-width="0.32">110</text>
<text transform="translate(601.8 324.43) scale(0.5 1)" font-size="9.4" text-anchor="middle" fill="#1c1c1c" stroke="#1c1c1c" stroke-width="0.32">60+20</text>
<circle cx="601" cy="331.7" r="2.6" fill="none" stroke="#3e3e3e" stroke-width="0.7"/>
<line x1="601" y1="334.3" x2="601" y2="340.4" stroke="#3e3e3e" stroke-width="0.6"/>
<text transform="translate(632.6 301.92) scale(0.51 1)" font-size="9.65" text-anchor="middle" fill="#1c1c1c" stroke="#1c1c1c" stroke-width="0.32">KUPAONICA 2</text>
<text transform="translate(632.6 312.32) scale(0.51 1)" font-size="9.65" text-anchor="middle" fill="#1c1c1c" stroke="#1c1c1c" stroke-width="0.32">KERAMIKA</text>
<text transform="translate(632.8 323.62) scale(0.51 1)" font-size="9.65" text-anchor="middle" fill="#1c1c1c" stroke="#1c1c1c" stroke-width="0.32">4.50 m2</text>
<circle cx="625.8" cy="330.2" r="6.1" fill="none" stroke="#161616" stroke-width="1.2"/>
<circle cx="625.8" cy="329.8" r="3.8" fill="none" stroke="#2c2c2c" stroke-width="0.9"/>
<path d="M622.8 332.6 Q625.8 335 628.8 332.6" fill="none" stroke="#2c2c2c" stroke-width="0.8"/>
<rect x="620.4" y="337.2" width="11.4" height="7.6" fill="none" stroke="#2c2c2c" stroke-width="0.8"/>
<line x1="618.6" y1="336.4" x2="633.6" y2="336.4" stroke="#3e3e3e" stroke-width="0.7"/>
<path d="M639.6 344.8 L639.6 327.4 L671.7 327.4" fill="none" stroke="#3e3e3e" stroke-width="0.7"/>
<rect x="645.7" y="329.1" width="19.1" height="13.9" fill="none" stroke="#2c2c2c" stroke-width="0.9"/>
<rect x="647" y="330.4" width="16.5" height="11.3" fill="none" stroke="#3e3e3e" stroke-width="0.5"/>
<circle cx="655.2" cy="339.8" r="0.8" fill="#111" stroke="#3e3e3e" stroke-width="0.5"/>
<path d="M651 297 Q653.4 316.6 674 318.8" fill="none" stroke="#3e3e3e" stroke-width="0.7"/>
<text transform="translate(657.6 305.24) scale(0.5 1)" font-size="9.14" text-anchor="middle" fill="#1c1c1c" stroke="#1c1c1c" stroke-width="0.32">80</text>
<text transform="translate(657 315.64) scale(0.5 1)" font-size="9.14" text-anchor="middle" fill="#1c1c1c" stroke="#1c1c1c" stroke-width="0.32">215</text>
<line x1="646.5" y1="307.4" x2="690" y2="307.4" stroke="#3e3e3e" stroke-width="0.6"/>
<circle cx="685.7" cy="297.4" r="6.9" fill="none" stroke="#3e3e3e" stroke-width="0.7"/>
<circle cx="690.4" cy="301.8" r="6.9" fill="none" stroke="#3e3e3e" stroke-width="0.7"/>
<circle cx="696" cy="307.4" r="6.9" fill="none" stroke="#3e3e3e" stroke-width="0.7"/>
<circle cx="686.5" cy="331.7" r="7" fill="none" stroke="#2c2c2c" stroke-width="0.8"/>
<text transform="translate(686.5 335.47) scale(0.76 1)" font-size="10.2" text-anchor="middle" fill="#3a3a3a">M1</text>
<text transform="translate(690 348.92) scale(0.51 1)" font-size="9.65" text-anchor="middle" fill="#1c1c1c" stroke="#1c1c1c" stroke-width="0.32">HODNIK</text>
<text transform="translate(689.8 358.42) scale(0.51 1)" font-size="9.65" text-anchor="middle" fill="#1c1c1c" stroke="#1c1c1c" stroke-width="0.32">PARKET</text>
<text transform="translate(689.2 368.52) scale(0.51 1)" font-size="9.65" text-anchor="middle" fill="#1c1c1c" stroke="#1c1c1c" stroke-width="0.32">5.10 m2</text>
<line x1="663.9" y1="360.4" x2="705.7" y2="360.4" stroke="#3e3e3e" stroke-width="0.6" stroke-dasharray="2.8 1.6"/>
<line x1="705.2" y1="360.4" x2="705.2" y2="381.3" stroke="#3e3e3e" stroke-width="0.6" stroke-dasharray="2.8 1.6"/>
<path d="M676.5 361 Q680.5 366.4 682.4 371 L684.4 374.5 L686.4 371 Q688.4 366.4 692.6 361" fill="none" stroke="#3e3e3e" stroke-width="0.6"/>
<line x1="684.4" y1="374.5" x2="684.4" y2="381.3" stroke="#3e3e3e" stroke-width="0.6"/>
<line x1="663.1" y1="381.3" x2="706.3" y2="381.3" stroke="#3e3e3e" stroke-width="0.7"/>
<circle cx="723.5" cy="350" r="6" fill="none" stroke="#3e3e3e" stroke-width="0.7"/>
<path d="M723.5 350 L723.5 344 A6 6 0 0 0 717.5 350 Z" fill="#000" stroke="#3e3e3e" stroke-width="0.3"/>
<path d="M723.5 350 L723.5 356 A6 6 0 0 0 729.5 350 Z" fill="#000" stroke="#3e3e3e" stroke-width="0.3"/>
<line x1="713" y1="349.8" x2="759.8" y2="349.8" stroke="#3e3e3e" stroke-width="0.6"/>
<line x1="723.5" y1="341" x2="723.5" y2="359.6" stroke="#3e3e3e" stroke-width="0.6"/>
<text transform="translate(735.8 348.85) scale(0.93 1)" font-size="9.3" text-anchor="start" fill="#3a3a3a">+3.00</text>
<text transform="translate(735.8 357.85) scale(0.93 1)" font-size="9.3" text-anchor="start" fill="#3a3a3a">+2.90</text>
<text transform="translate(744.8 369.72) scale(0.51 1)" font-size="9.65" text-anchor="middle" fill="#1c1c1c" stroke="#1c1c1c" stroke-width="0.32">SOBA 3</text>
<text transform="translate(744.4 380.22) scale(0.51 1)" font-size="9.65" text-anchor="middle" fill="#1c1c1c" stroke="#1c1c1c" stroke-width="0.32">PARKET</text>
<text transform="translate(744.8 390.62) scale(0.51 1)" font-size="9.65" text-anchor="middle" fill="#1c1c1c" stroke="#1c1c1c" stroke-width="0.32">8.60 m2</text>
<line x1="711.3" y1="374.3" x2="711.3" y2="405.7" stroke="#777" stroke-width="1.6"/>
<path d="M724.8 383 L714.4 389.5 L724.8 396" fill="none" stroke="#3e3e3e" stroke-width="0.7"/>
<line x1="619.6" y1="350.1" x2="619.6" y2="415.7" stroke="#3e3e3e" stroke-width="0.6"/>
<line x1="628.3" y1="350.1" x2="628.3" y2="415.7" stroke="#3e3e3e" stroke-width="0.6"/>
<line x1="637" y1="350.1" x2="637" y2="415.7" stroke="#3e3e3e" stroke-width="0.6"/>
<line x1="645.7" y1="350.1" x2="645.7" y2="415.7" stroke="#3e3e3e" stroke-width="0.6"/>
<line x1="654.4" y1="350.1" x2="654.4" y2="415.7" stroke="#3e3e3e" stroke-width="0.6"/>
<line x1="663.1" y1="350.1" x2="663.1" y2="360.4" stroke="#2c2c2c" stroke-width="0.8"/>
<path d="M663.1 364.8 L618.7 364.8 A16.6 16.9 0 0 0 618.7 398.6" fill="none" stroke="#3e3e3e" stroke-width="0.7"/>
<line x1="618.7" y1="381.3" x2="659.8" y2="381.3" stroke="#3e3e3e" stroke-width="0.6"/>
<line x1="618.7" y1="383.2" x2="659.8" y2="383.2" stroke="#3e3e3e" stroke-width="0.6"/>
<line x1="618.7" y1="382.2" x2="659.8" y2="382.2" stroke="#999" stroke-width="1.6"/>
<line x1="601.3" y1="350.1" x2="618.7" y2="382.2" stroke="#3e3e3e" stroke-width="0.6"/>
<line x1="588.3" y1="364" x2="618.7" y2="382.2" stroke="#3e3e3e" stroke-width="0.6"/>
<line x1="588.3" y1="378.8" x2="618.7" y2="382.2" stroke="#3e3e3e" stroke-width="0.6"/>
<line x1="618.7" y1="382.2" x2="599.6" y2="411.4" stroke="#3e3e3e" stroke-width="0.6"/>
<line x1="618.7" y1="382.2" x2="588.3" y2="399.8" stroke="#3e3e3e" stroke-width="0.6"/>
<path d="M655.2 363.9 L663 369.2 L655.2 374.4" fill="none" stroke="#3e3e3e" stroke-width="0.6"/>
<text transform="translate(641.3 398.4) scale(0.72 1)" font-size="10" text-anchor="middle" fill="#333">17x17.65</text>
<text transform="translate(640.6 408.8) scale(0.72 1)" font-size="10" text-anchor="middle" fill="#333">28</text>
<text transform="translate(623.8 402.85) rotate(-90) translate(0 2.01) scale(0.55 1)" font-size="5.59" text-anchor="middle" fill="#1c1c1c" stroke="#1c1c1c" stroke-width="0.32">60</text>
<text transform="translate(632.4 402.85) rotate(-90) translate(0 2.01) scale(0.55 1)" font-size="5.59" text-anchor="middle" fill="#1c1c1c" stroke="#1c1c1c" stroke-width="0.32">210</text>
<line x1="589" y1="399.9" x2="605" y2="399.9" stroke="#222" stroke-width="0.9"/>
<line x1="677.8" y1="399.9" x2="693.6" y2="399.9" stroke="#222" stroke-width="0.9"/>
<line x1="709.6" y1="399.9" x2="725.2" y2="399.9" stroke="#222" stroke-width="0.9"/>
<line x1="732" y1="399.9" x2="755.8" y2="399.9" stroke="#222" stroke-width="0.9"/>
<line x1="769" y1="399.9" x2="790" y2="399.9" stroke="#222" stroke-width="0.9"/>
<line x1="610.5" y1="399.9" x2="611.5" y2="399.9" stroke="#777" stroke-width="0.7"/>
<line x1="614" y1="399.9" x2="615" y2="399.9" stroke="#777" stroke-width="0.7"/>
<line x1="667.5" y1="399.9" x2="668.5" y2="399.9" stroke="#777" stroke-width="0.7"/>
<line x1="671.5" y1="399.9" x2="672.5" y2="399.9" stroke="#777" stroke-width="0.7"/>
<line x1="698.5" y1="399.9" x2="699.5" y2="399.9" stroke="#777" stroke-width="0.7"/>
<line x1="702" y1="399.9" x2="703" y2="399.9" stroke="#777" stroke-width="0.7"/>
<line x1="759.5" y1="399.9" x2="760.5" y2="399.9" stroke="#777" stroke-width="0.7"/>
<line x1="763.5" y1="399.9" x2="764.5" y2="399.9" stroke="#777" stroke-width="0.7"/>
<path d="M792.8 353.5 L761.7 353.5 L761.7 414.3 L792.8 414.3" fill="none" stroke="#3e3e3e" stroke-width="0.7"/>
<line x1="763.6" y1="355.2" x2="792.8" y2="355.2" stroke="#3e3e3e" stroke-width="0.5"/>
<path d="M792.2 386 L778.3 386 L778.3 397.4" fill="none" stroke="#3e3e3e" stroke-width="0.7"/>
<line x1="792.2" y1="387.4" x2="780.2" y2="397.6" stroke="#3e3e3e" stroke-width="0.7"/>
<path d="M772 400.4 L788.8 400.4 L788.8 410 L766 410 L766 402" fill="none" stroke="#3e3e3e" stroke-width="0.7"/>
<line x1="772" y1="400.4" x2="778.3" y2="397.4" stroke="#333" stroke-width="1.2"/>
<rect x="762.4" y="400.6" width="3.8" height="9.4" fill="none" stroke="#3e3e3e" stroke-width="0.6"/>
<rect x="726.9" y="410.8" width="3.5" height="4.9" fill="none" stroke="#3e3e3e" stroke-width="0.6"/>
<line x1="731.2" y1="421.3" x2="755.7" y2="421.3" stroke="#3e3e3e" stroke-width="0.6"/>
<line x1="755.7" y1="415.7" x2="755.7" y2="425.1" stroke="#2c2c2c" stroke-width="0.8"/>
<line x1="733" y1="400.4" x2="733" y2="415.7" stroke="#2c2c2c" stroke-width="0.8"/>
<path d="M733 400.4 Q751.4 401.6 754.8 421" fill="none" stroke="#3e3e3e" stroke-width="0.7"/>
<text transform="translate(739.2 402.65) rotate(-62) translate(0 3.02) scale(0.46 1)" font-size="8.38" text-anchor="middle" fill="#1c1c1c" stroke="#1c1c1c" stroke-width="0.32">100</text>
<text transform="translate(748 402.05) rotate(-90) translate(0 3.11) scale(0.46 1)" font-size="8.64" text-anchor="middle" fill="#1c1c1c" stroke="#1c1c1c" stroke-width="0.32">190+20</text>
<text transform="translate(761.6 412.96) scale(0.5 1)" font-size="8.64" text-anchor="middle" fill="#1c1c1c" stroke="#1c1c1c" stroke-width="0.32">p=20</text>
<path d="M655.3 425.1 L655.3 468.7 L755.7 468.7 L755.7 425.1" fill="none" stroke="#3e3e3e" stroke-width="0.7"/>
<line x1="704.3" y1="423.4" x2="704.3" y2="468.7" stroke="#3e3e3e" stroke-width="0.7"/>
<line x1="701.7" y1="466.1" x2="706.9" y2="471.3" stroke="#111" stroke-width="1.3"/>
<path d="M700.8 421.8 L706 427" fill="none" stroke="#161616" stroke-width="1.1"/>
<text transform="translate(697.6 447.25) rotate(-90) translate(0 3.2) scale(0.5 1)" font-size="8.89" text-anchor="middle" fill="#1c1c1c" stroke="#1c1c1c" stroke-width="0.32">140</text>
</g>
</g>
</svg>
</body>
</html>
